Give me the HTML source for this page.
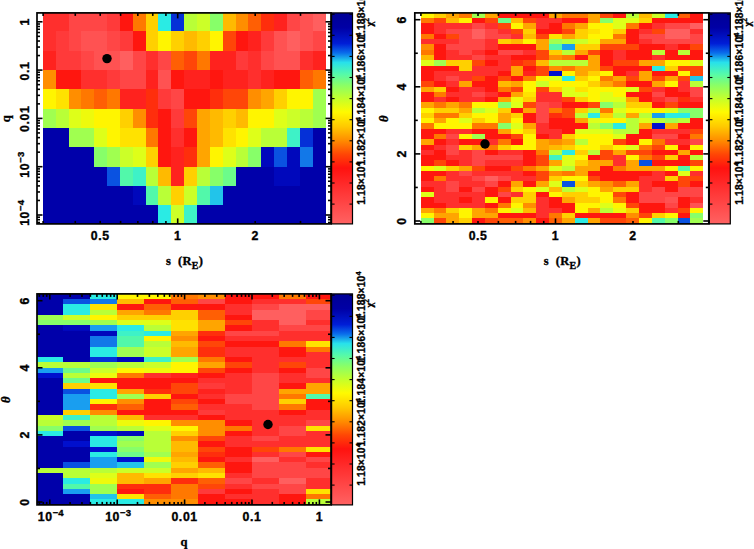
<!DOCTYPE html>
<html><head><meta charset="utf-8"><title>chi2 grid</title>
<style>html,body{margin:0;padding:0;background:#fff}svg{display:block}</style></head>
<body>
<svg width="754" height="549" viewBox="0 0 754 549">
<rect width="754" height="549" fill="#fff"/>
<defs><linearGradient id="cb" x1="0" y1="0" x2="0" y2="1">
<stop offset="0.000" stop-color="#000096"/>
<stop offset="0.070" stop-color="#0000a5"/>
<stop offset="0.145" stop-color="#001ed7"/>
<stop offset="0.190" stop-color="#0a6eeb"/>
<stop offset="0.235" stop-color="#28e1eb"/>
<stop offset="0.290" stop-color="#55faaa"/>
<stop offset="0.345" stop-color="#8cff64"/>
<stop offset="0.410" stop-color="#c8ff28"/>
<stop offset="0.470" stop-color="#fffa00"/>
<stop offset="0.540" stop-color="#ffc800"/>
<stop offset="0.605" stop-color="#ff8c00"/>
<stop offset="0.670" stop-color="#ff4605"/>
<stop offset="0.735" stop-color="#ff120f"/>
<stop offset="0.820" stop-color="#ff2d2d"/>
<stop offset="0.910" stop-color="#ff4848"/>
<stop offset="1.000" stop-color="#ff6262"/>
</linearGradient></defs>
<style>text{font-family:"Liberation Sans",sans-serif;fill:#000;stroke:#000;stroke-width:0.35px}.t{font-size:12.3px;font-weight:bold;letter-spacing:0.6px}.c{font-size:10.3px;font-weight:bold;letter-spacing:0.15px}.s{font-family:"Liberation Serif",serif;font-size:12.5px;font-weight:bold;letter-spacing:0.8px;word-spacing:1.5px}</style>
<g shape-rendering="crispEdges">
<rect x="42.90" y="12.90" width="25.98" height="18.86" fill="#ff2f2d"/>
<rect x="68.58" y="12.90" width="38.82" height="18.86" fill="#ff4646"/>
<rect x="107.10" y="12.90" width="13.14" height="18.86" fill="#ff3a3a"/>
<rect x="119.94" y="12.90" width="13.14" height="18.86" fill="#ff160f"/>
<rect x="132.78" y="12.90" width="13.14" height="18.86" fill="#ff7800"/>
<rect x="145.62" y="12.90" width="13.14" height="18.86" fill="#ffd000"/>
<rect x="158.46" y="12.90" width="13.14" height="18.86" fill="#2aebe4"/>
<rect x="171.30" y="12.90" width="13.14" height="18.86" fill="#0530d7"/>
<rect x="184.14" y="12.90" width="13.14" height="18.86" fill="#b9ff37"/>
<rect x="196.98" y="12.90" width="13.14" height="18.86" fill="#ccff28"/>
<rect x="209.82" y="12.90" width="13.14" height="18.86" fill="#87ff69"/>
<rect x="222.66" y="12.90" width="13.14" height="18.86" fill="#ffba00"/>
<rect x="235.50" y="12.90" width="13.14" height="18.86" fill="#ff8e00"/>
<rect x="248.34" y="12.90" width="13.14" height="18.86" fill="#ff5f04"/>
<rect x="261.18" y="12.90" width="13.14" height="18.86" fill="#ff2e0c"/>
<rect x="274.02" y="12.90" width="13.14" height="18.86" fill="#ff221e"/>
<rect x="286.86" y="12.90" width="13.14" height="18.86" fill="#ff4646"/>
<rect x="299.70" y="12.90" width="13.14" height="18.86" fill="#ff5252"/>
<rect x="312.54" y="12.90" width="13.14" height="18.86" fill="#ff5f5f"/>
<rect x="42.90" y="31.46" width="13.14" height="19.61" fill="#ff2f2d"/>
<rect x="55.74" y="31.46" width="13.14" height="19.61" fill="#ff3a3a"/>
<rect x="68.58" y="31.46" width="13.14" height="19.61" fill="#ff4646"/>
<rect x="81.42" y="31.46" width="25.98" height="19.61" fill="#ff5252"/>
<rect x="107.10" y="31.46" width="13.14" height="19.61" fill="#ff4646"/>
<rect x="119.94" y="31.46" width="13.14" height="19.61" fill="#ff3a3a"/>
<rect x="132.78" y="31.46" width="13.14" height="19.61" fill="#ff160f"/>
<rect x="145.62" y="31.46" width="13.14" height="19.61" fill="#ffd000"/>
<rect x="158.46" y="31.46" width="13.14" height="19.61" fill="#fff500"/>
<rect x="171.30" y="31.46" width="13.14" height="19.61" fill="#ffd000"/>
<rect x="184.14" y="31.46" width="13.14" height="19.61" fill="#ffba00"/>
<rect x="196.98" y="31.46" width="13.14" height="19.61" fill="#ffd000"/>
<rect x="209.82" y="31.46" width="13.14" height="19.61" fill="#fff500"/>
<rect x="222.66" y="31.46" width="13.14" height="19.61" fill="#ff4608"/>
<rect x="235.50" y="31.46" width="13.14" height="19.61" fill="#ff160f"/>
<rect x="248.34" y="31.46" width="13.14" height="19.61" fill="#ff221e"/>
<rect x="261.18" y="31.46" width="13.14" height="19.61" fill="#ff3a3a"/>
<rect x="274.02" y="31.46" width="13.14" height="19.61" fill="#ff5252"/>
<rect x="286.86" y="31.46" width="13.14" height="19.61" fill="#ff5f5f"/>
<rect x="299.70" y="31.46" width="13.14" height="19.61" fill="#ff5252"/>
<rect x="312.54" y="31.46" width="13.14" height="19.61" fill="#ff4646"/>
<rect x="42.90" y="50.77" width="13.14" height="19.61" fill="#ff221e"/>
<rect x="55.74" y="50.77" width="25.98" height="19.61" fill="#ff3a3a"/>
<rect x="81.42" y="50.77" width="13.14" height="19.61" fill="#ff4646"/>
<rect x="94.26" y="50.77" width="25.98" height="19.61" fill="#ff5252"/>
<rect x="119.94" y="50.77" width="13.14" height="19.61" fill="#ff5f5f"/>
<rect x="132.78" y="50.77" width="13.14" height="19.61" fill="#ff4646"/>
<rect x="145.62" y="50.77" width="13.14" height="19.61" fill="#ff2f2d"/>
<rect x="158.46" y="50.77" width="13.14" height="19.61" fill="#ff4646"/>
<rect x="171.30" y="50.77" width="13.14" height="19.61" fill="#ff5f04"/>
<rect x="184.14" y="50.77" width="13.14" height="19.61" fill="#ff4608"/>
<rect x="196.98" y="50.77" width="13.14" height="19.61" fill="#ff7800"/>
<rect x="209.82" y="50.77" width="25.98" height="19.61" fill="#ff221e"/>
<rect x="235.50" y="50.77" width="13.14" height="19.61" fill="#ff3a3a"/>
<rect x="248.34" y="50.77" width="13.14" height="19.61" fill="#ff2f2d"/>
<rect x="261.18" y="50.77" width="13.14" height="19.61" fill="#ff4646"/>
<rect x="274.02" y="50.77" width="25.98" height="19.61" fill="#ff5252"/>
<rect x="299.70" y="50.77" width="13.14" height="19.61" fill="#ff2f2d"/>
<rect x="312.54" y="50.77" width="13.14" height="19.61" fill="#ff221e"/>
<rect x="42.90" y="70.08" width="13.14" height="19.61" fill="#ff8e00"/>
<rect x="55.74" y="70.08" width="25.98" height="19.61" fill="#ff160f"/>
<rect x="81.42" y="70.08" width="25.98" height="19.61" fill="#ff2f2d"/>
<rect x="107.10" y="70.08" width="13.14" height="19.61" fill="#ff3a3a"/>
<rect x="119.94" y="70.08" width="25.98" height="19.61" fill="#ff4646"/>
<rect x="145.62" y="70.08" width="13.14" height="19.61" fill="#ff221e"/>
<rect x="158.46" y="70.08" width="13.14" height="19.61" fill="#ff5252"/>
<rect x="171.30" y="70.08" width="13.14" height="19.61" fill="#ff160f"/>
<rect x="184.14" y="70.08" width="25.98" height="19.61" fill="#ff221e"/>
<rect x="209.82" y="70.08" width="13.14" height="19.61" fill="#ff160f"/>
<rect x="222.66" y="70.08" width="25.98" height="19.61" fill="#ff221e"/>
<rect x="248.34" y="70.08" width="13.14" height="19.61" fill="#ff2f2d"/>
<rect x="261.18" y="70.08" width="13.14" height="19.61" fill="#ff221e"/>
<rect x="274.02" y="70.08" width="25.98" height="19.61" fill="#ff160f"/>
<rect x="299.70" y="70.08" width="13.14" height="19.61" fill="#ff5f04"/>
<rect x="312.54" y="70.08" width="13.14" height="19.61" fill="#ff7800"/>
<rect x="42.90" y="89.39" width="13.14" height="19.61" fill="#fff500"/>
<rect x="55.74" y="89.39" width="13.14" height="19.61" fill="#ffe200"/>
<rect x="68.58" y="89.39" width="13.14" height="19.61" fill="#ff8e00"/>
<rect x="81.42" y="89.39" width="13.14" height="19.61" fill="#ff7800"/>
<rect x="94.26" y="89.39" width="13.14" height="19.61" fill="#ff5f04"/>
<rect x="107.10" y="89.39" width="13.14" height="19.61" fill="#ff7800"/>
<rect x="119.94" y="89.39" width="25.98" height="19.61" fill="#ff221e"/>
<rect x="145.62" y="89.39" width="13.14" height="19.61" fill="#ff2e0c"/>
<rect x="158.46" y="89.39" width="13.14" height="19.61" fill="#ff3a3a"/>
<rect x="171.30" y="89.39" width="13.14" height="19.61" fill="#ff4646"/>
<rect x="184.14" y="89.39" width="25.98" height="19.61" fill="#ff160f"/>
<rect x="209.82" y="89.39" width="13.14" height="19.61" fill="#ff2e0c"/>
<rect x="222.66" y="89.39" width="25.98" height="19.61" fill="#ff4608"/>
<rect x="248.34" y="89.39" width="13.14" height="19.61" fill="#ff8e00"/>
<rect x="261.18" y="89.39" width="13.14" height="19.61" fill="#ffa500"/>
<rect x="274.02" y="89.39" width="13.14" height="19.61" fill="#ffd000"/>
<rect x="286.86" y="89.39" width="25.98" height="19.61" fill="#fff500"/>
<rect x="312.54" y="89.39" width="13.14" height="19.61" fill="#a0ff50"/>
<rect x="42.90" y="108.70" width="13.14" height="19.61" fill="#a0ff50"/>
<rect x="55.74" y="108.70" width="13.14" height="19.61" fill="#b9ff37"/>
<rect x="68.58" y="108.70" width="13.14" height="19.61" fill="#deff19"/>
<rect x="81.42" y="108.70" width="13.14" height="19.61" fill="#eefa0c"/>
<rect x="94.26" y="108.70" width="25.98" height="19.61" fill="#fff500"/>
<rect x="119.94" y="108.70" width="13.14" height="19.61" fill="#ffd000"/>
<rect x="132.78" y="108.70" width="13.14" height="19.61" fill="#ff8e00"/>
<rect x="145.62" y="108.70" width="13.14" height="19.61" fill="#ff2e0c"/>
<rect x="158.46" y="108.70" width="13.14" height="19.61" fill="#ff160f"/>
<rect x="171.30" y="108.70" width="13.14" height="19.61" fill="#ff3a3a"/>
<rect x="184.14" y="108.70" width="13.14" height="19.61" fill="#ff4608"/>
<rect x="196.98" y="108.70" width="13.14" height="19.61" fill="#ffa500"/>
<rect x="209.82" y="108.70" width="13.14" height="19.61" fill="#ffba00"/>
<rect x="222.66" y="108.70" width="13.14" height="19.61" fill="#ffd000"/>
<rect x="235.50" y="108.70" width="13.14" height="19.61" fill="#ffba00"/>
<rect x="248.34" y="108.70" width="25.98" height="19.61" fill="#fff500"/>
<rect x="274.02" y="108.70" width="13.14" height="19.61" fill="#deff19"/>
<rect x="286.86" y="108.70" width="13.14" height="19.61" fill="#ccff28"/>
<rect x="299.70" y="108.70" width="13.14" height="19.61" fill="#b9ff37"/>
<rect x="312.54" y="108.70" width="13.14" height="19.61" fill="#a0ff50"/>
<rect x="42.90" y="128.01" width="25.98" height="19.61" fill="#0000aa"/>
<rect x="68.58" y="128.01" width="25.98" height="19.61" fill="#a0ff50"/>
<rect x="94.26" y="128.01" width="13.14" height="19.61" fill="#deff19"/>
<rect x="107.10" y="128.01" width="13.14" height="19.61" fill="#fff500"/>
<rect x="119.94" y="128.01" width="25.98" height="19.61" fill="#ffe200"/>
<rect x="145.62" y="128.01" width="13.14" height="19.61" fill="#ff7800"/>
<rect x="158.46" y="128.01" width="13.14" height="19.61" fill="#ff160f"/>
<rect x="171.30" y="128.01" width="13.14" height="19.61" fill="#ff2f2d"/>
<rect x="184.14" y="128.01" width="13.14" height="19.61" fill="#ff160f"/>
<rect x="196.98" y="128.01" width="13.14" height="19.61" fill="#ffa500"/>
<rect x="209.82" y="128.01" width="13.14" height="19.61" fill="#ffba00"/>
<rect x="222.66" y="128.01" width="13.14" height="19.61" fill="#ffe200"/>
<rect x="235.50" y="128.01" width="13.14" height="19.61" fill="#fff500"/>
<rect x="248.34" y="128.01" width="13.14" height="19.61" fill="#deff19"/>
<rect x="261.18" y="128.01" width="25.98" height="19.61" fill="#b9ff37"/>
<rect x="286.86" y="128.01" width="13.14" height="19.61" fill="#3ef2c7"/>
<rect x="299.70" y="128.01" width="13.14" height="19.61" fill="#0530d7"/>
<rect x="312.54" y="128.01" width="13.14" height="19.61" fill="#0000aa"/>
<rect x="42.90" y="147.32" width="51.66" height="19.61" fill="#0000aa"/>
<rect x="94.26" y="147.32" width="13.14" height="19.61" fill="#87ff69"/>
<rect x="107.10" y="147.32" width="13.14" height="19.61" fill="#a0ff50"/>
<rect x="119.94" y="147.32" width="13.14" height="19.61" fill="#ccff28"/>
<rect x="132.78" y="147.32" width="13.14" height="19.61" fill="#deff19"/>
<rect x="145.62" y="147.32" width="13.14" height="19.61" fill="#ffd000"/>
<rect x="158.46" y="147.32" width="13.14" height="19.61" fill="#ff160f"/>
<rect x="171.30" y="147.32" width="13.14" height="19.61" fill="#ff221e"/>
<rect x="184.14" y="147.32" width="13.14" height="19.61" fill="#ff2e0c"/>
<rect x="196.98" y="147.32" width="13.14" height="19.61" fill="#ffa500"/>
<rect x="209.82" y="147.32" width="13.14" height="19.61" fill="#fff500"/>
<rect x="222.66" y="147.32" width="13.14" height="19.61" fill="#deff19"/>
<rect x="235.50" y="147.32" width="13.14" height="19.61" fill="#b9ff37"/>
<rect x="248.34" y="147.32" width="13.14" height="19.61" fill="#87ff69"/>
<rect x="261.18" y="147.32" width="13.14" height="19.61" fill="#0008bc"/>
<rect x="274.02" y="147.32" width="13.14" height="19.61" fill="#0a52e1"/>
<rect x="286.86" y="147.32" width="13.14" height="19.61" fill="#0008bc"/>
<rect x="299.70" y="147.32" width="13.14" height="19.61" fill="#1278e8"/>
<rect x="312.54" y="147.32" width="13.14" height="19.61" fill="#0000aa"/>
<rect x="42.90" y="166.63" width="64.50" height="19.61" fill="#0000aa"/>
<rect x="107.10" y="166.63" width="13.14" height="19.61" fill="#0a52e1"/>
<rect x="119.94" y="166.63" width="13.14" height="19.61" fill="#52f8aa"/>
<rect x="132.78" y="166.63" width="13.14" height="19.61" fill="#3ef2c7"/>
<rect x="145.62" y="166.63" width="13.14" height="19.61" fill="#b9ff37"/>
<rect x="158.46" y="166.63" width="13.14" height="19.61" fill="#ffba00"/>
<rect x="171.30" y="166.63" width="13.14" height="19.61" fill="#ff221e"/>
<rect x="184.14" y="166.63" width="13.14" height="19.61" fill="#ffd000"/>
<rect x="196.98" y="166.63" width="13.14" height="19.61" fill="#b9ff37"/>
<rect x="209.82" y="166.63" width="13.14" height="19.61" fill="#87ff69"/>
<rect x="222.66" y="166.63" width="13.14" height="19.61" fill="#6cfc8a"/>
<rect x="235.50" y="166.63" width="38.82" height="19.61" fill="#0000aa"/>
<rect x="274.02" y="166.63" width="25.98" height="19.61" fill="#0008bc"/>
<rect x="299.70" y="166.63" width="25.98" height="19.61" fill="#0000aa"/>
<rect x="42.90" y="185.94" width="90.18" height="19.61" fill="#0000aa"/>
<rect x="132.78" y="185.94" width="13.14" height="19.61" fill="#0008bc"/>
<rect x="145.62" y="185.94" width="13.14" height="19.61" fill="#52f8aa"/>
<rect x="158.46" y="185.94" width="13.14" height="19.61" fill="#b9ff37"/>
<rect x="171.30" y="185.94" width="13.14" height="19.61" fill="#ffd000"/>
<rect x="184.14" y="185.94" width="13.14" height="19.61" fill="#ccff28"/>
<rect x="196.98" y="185.94" width="13.14" height="19.61" fill="#52f8aa"/>
<rect x="209.82" y="185.94" width="13.14" height="19.61" fill="#22c4ea"/>
<rect x="222.66" y="185.94" width="103.02" height="19.61" fill="#0000aa"/>
<rect x="42.90" y="205.25" width="115.86" height="18.95" fill="#0000aa"/>
<rect x="158.46" y="205.25" width="13.14" height="18.95" fill="#2aebe4"/>
<rect x="171.30" y="205.25" width="13.14" height="18.95" fill="#ccff28"/>
<rect x="184.14" y="205.25" width="13.14" height="18.95" fill="#3ef2c7"/>
<rect x="196.98" y="205.25" width="128.70" height="18.95" fill="#0000aa"/>
</g>
<rect x="37" y="12.9" width="294" height="211.0" fill="none" stroke="#000" stroke-width="1.7"/>
<line x1="43.11" y1="223.90" x2="43.11" y2="220.90" stroke="#000" stroke-width="1.6"/>
<line x1="43.11" y1="12.90" x2="43.11" y2="15.90" stroke="#000" stroke-width="1.6"/>
<line x1="75.27" y1="223.90" x2="75.27" y2="220.90" stroke="#000" stroke-width="1.6"/>
<line x1="75.27" y1="12.90" x2="75.27" y2="15.90" stroke="#000" stroke-width="1.6"/>
<line x1="100.21" y1="223.90" x2="100.21" y2="220.90" stroke="#000" stroke-width="1.6"/>
<line x1="100.21" y1="12.90" x2="100.21" y2="15.90" stroke="#000" stroke-width="1.6"/>
<line x1="120.60" y1="223.90" x2="120.60" y2="220.90" stroke="#000" stroke-width="1.6"/>
<line x1="120.60" y1="12.90" x2="120.60" y2="15.90" stroke="#000" stroke-width="1.6"/>
<line x1="137.83" y1="223.90" x2="137.83" y2="220.90" stroke="#000" stroke-width="1.6"/>
<line x1="137.83" y1="12.90" x2="137.83" y2="15.90" stroke="#000" stroke-width="1.6"/>
<line x1="152.76" y1="223.90" x2="152.76" y2="220.90" stroke="#000" stroke-width="1.6"/>
<line x1="152.76" y1="12.90" x2="152.76" y2="15.90" stroke="#000" stroke-width="1.6"/>
<line x1="165.92" y1="223.90" x2="165.92" y2="220.90" stroke="#000" stroke-width="1.6"/>
<line x1="165.92" y1="12.90" x2="165.92" y2="15.90" stroke="#000" stroke-width="1.6"/>
<line x1="177.70" y1="223.90" x2="177.70" y2="218.40" stroke="#000" stroke-width="1.6"/>
<line x1="177.70" y1="12.90" x2="177.70" y2="18.40" stroke="#000" stroke-width="1.6"/>
<line x1="255.19" y1="223.90" x2="255.19" y2="220.90" stroke="#000" stroke-width="1.6"/>
<line x1="255.19" y1="12.90" x2="255.19" y2="15.90" stroke="#000" stroke-width="1.6"/>
<line x1="300.51" y1="223.90" x2="300.51" y2="220.90" stroke="#000" stroke-width="1.6"/>
<line x1="300.51" y1="12.90" x2="300.51" y2="15.90" stroke="#000" stroke-width="1.6"/>
<line x1="37.00" y1="222.48" x2="40.00" y2="222.48" stroke="#000" stroke-width="1.6"/>
<line x1="331.00" y1="222.48" x2="328.00" y2="222.48" stroke="#000" stroke-width="1.6"/>
<line x1="37.00" y1="219.68" x2="40.00" y2="219.68" stroke="#000" stroke-width="1.6"/>
<line x1="331.00" y1="219.68" x2="328.00" y2="219.68" stroke="#000" stroke-width="1.6"/>
<line x1="37.00" y1="217.21" x2="40.00" y2="217.21" stroke="#000" stroke-width="1.6"/>
<line x1="331.00" y1="217.21" x2="328.00" y2="217.21" stroke="#000" stroke-width="1.6"/>
<line x1="37.00" y1="215.00" x2="42.50" y2="215.00" stroke="#000" stroke-width="1.6"/>
<line x1="331.00" y1="215.00" x2="325.50" y2="215.00" stroke="#000" stroke-width="1.6"/>
<line x1="37.00" y1="200.46" x2="40.00" y2="200.46" stroke="#000" stroke-width="1.6"/>
<line x1="331.00" y1="200.46" x2="328.00" y2="200.46" stroke="#000" stroke-width="1.6"/>
<line x1="37.00" y1="191.96" x2="40.00" y2="191.96" stroke="#000" stroke-width="1.6"/>
<line x1="331.00" y1="191.96" x2="328.00" y2="191.96" stroke="#000" stroke-width="1.6"/>
<line x1="37.00" y1="185.92" x2="40.00" y2="185.92" stroke="#000" stroke-width="1.6"/>
<line x1="331.00" y1="185.92" x2="328.00" y2="185.92" stroke="#000" stroke-width="1.6"/>
<line x1="37.00" y1="181.24" x2="40.00" y2="181.24" stroke="#000" stroke-width="1.6"/>
<line x1="331.00" y1="181.24" x2="328.00" y2="181.24" stroke="#000" stroke-width="1.6"/>
<line x1="37.00" y1="177.42" x2="40.00" y2="177.42" stroke="#000" stroke-width="1.6"/>
<line x1="331.00" y1="177.42" x2="328.00" y2="177.42" stroke="#000" stroke-width="1.6"/>
<line x1="37.00" y1="174.18" x2="40.00" y2="174.18" stroke="#000" stroke-width="1.6"/>
<line x1="331.00" y1="174.18" x2="328.00" y2="174.18" stroke="#000" stroke-width="1.6"/>
<line x1="37.00" y1="171.38" x2="40.00" y2="171.38" stroke="#000" stroke-width="1.6"/>
<line x1="331.00" y1="171.38" x2="328.00" y2="171.38" stroke="#000" stroke-width="1.6"/>
<line x1="37.00" y1="168.91" x2="40.00" y2="168.91" stroke="#000" stroke-width="1.6"/>
<line x1="331.00" y1="168.91" x2="328.00" y2="168.91" stroke="#000" stroke-width="1.6"/>
<line x1="37.00" y1="166.70" x2="42.50" y2="166.70" stroke="#000" stroke-width="1.6"/>
<line x1="331.00" y1="166.70" x2="325.50" y2="166.70" stroke="#000" stroke-width="1.6"/>
<line x1="37.00" y1="152.16" x2="40.00" y2="152.16" stroke="#000" stroke-width="1.6"/>
<line x1="331.00" y1="152.16" x2="328.00" y2="152.16" stroke="#000" stroke-width="1.6"/>
<line x1="37.00" y1="143.66" x2="40.00" y2="143.66" stroke="#000" stroke-width="1.6"/>
<line x1="331.00" y1="143.66" x2="328.00" y2="143.66" stroke="#000" stroke-width="1.6"/>
<line x1="37.00" y1="137.62" x2="40.00" y2="137.62" stroke="#000" stroke-width="1.6"/>
<line x1="331.00" y1="137.62" x2="328.00" y2="137.62" stroke="#000" stroke-width="1.6"/>
<line x1="37.00" y1="132.94" x2="40.00" y2="132.94" stroke="#000" stroke-width="1.6"/>
<line x1="331.00" y1="132.94" x2="328.00" y2="132.94" stroke="#000" stroke-width="1.6"/>
<line x1="37.00" y1="129.12" x2="40.00" y2="129.12" stroke="#000" stroke-width="1.6"/>
<line x1="331.00" y1="129.12" x2="328.00" y2="129.12" stroke="#000" stroke-width="1.6"/>
<line x1="37.00" y1="125.88" x2="40.00" y2="125.88" stroke="#000" stroke-width="1.6"/>
<line x1="331.00" y1="125.88" x2="328.00" y2="125.88" stroke="#000" stroke-width="1.6"/>
<line x1="37.00" y1="123.08" x2="40.00" y2="123.08" stroke="#000" stroke-width="1.6"/>
<line x1="331.00" y1="123.08" x2="328.00" y2="123.08" stroke="#000" stroke-width="1.6"/>
<line x1="37.00" y1="120.61" x2="40.00" y2="120.61" stroke="#000" stroke-width="1.6"/>
<line x1="331.00" y1="120.61" x2="328.00" y2="120.61" stroke="#000" stroke-width="1.6"/>
<line x1="37.00" y1="118.40" x2="42.50" y2="118.40" stroke="#000" stroke-width="1.6"/>
<line x1="331.00" y1="118.40" x2="325.50" y2="118.40" stroke="#000" stroke-width="1.6"/>
<line x1="37.00" y1="103.86" x2="40.00" y2="103.86" stroke="#000" stroke-width="1.6"/>
<line x1="331.00" y1="103.86" x2="328.00" y2="103.86" stroke="#000" stroke-width="1.6"/>
<line x1="37.00" y1="95.36" x2="40.00" y2="95.36" stroke="#000" stroke-width="1.6"/>
<line x1="331.00" y1="95.36" x2="328.00" y2="95.36" stroke="#000" stroke-width="1.6"/>
<line x1="37.00" y1="89.32" x2="40.00" y2="89.32" stroke="#000" stroke-width="1.6"/>
<line x1="331.00" y1="89.32" x2="328.00" y2="89.32" stroke="#000" stroke-width="1.6"/>
<line x1="37.00" y1="84.64" x2="40.00" y2="84.64" stroke="#000" stroke-width="1.6"/>
<line x1="331.00" y1="84.64" x2="328.00" y2="84.64" stroke="#000" stroke-width="1.6"/>
<line x1="37.00" y1="80.82" x2="40.00" y2="80.82" stroke="#000" stroke-width="1.6"/>
<line x1="331.00" y1="80.82" x2="328.00" y2="80.82" stroke="#000" stroke-width="1.6"/>
<line x1="37.00" y1="77.58" x2="40.00" y2="77.58" stroke="#000" stroke-width="1.6"/>
<line x1="331.00" y1="77.58" x2="328.00" y2="77.58" stroke="#000" stroke-width="1.6"/>
<line x1="37.00" y1="74.78" x2="40.00" y2="74.78" stroke="#000" stroke-width="1.6"/>
<line x1="331.00" y1="74.78" x2="328.00" y2="74.78" stroke="#000" stroke-width="1.6"/>
<line x1="37.00" y1="72.31" x2="40.00" y2="72.31" stroke="#000" stroke-width="1.6"/>
<line x1="331.00" y1="72.31" x2="328.00" y2="72.31" stroke="#000" stroke-width="1.6"/>
<line x1="37.00" y1="70.10" x2="42.50" y2="70.10" stroke="#000" stroke-width="1.6"/>
<line x1="331.00" y1="70.10" x2="325.50" y2="70.10" stroke="#000" stroke-width="1.6"/>
<line x1="37.00" y1="55.56" x2="40.00" y2="55.56" stroke="#000" stroke-width="1.6"/>
<line x1="331.00" y1="55.56" x2="328.00" y2="55.56" stroke="#000" stroke-width="1.6"/>
<line x1="37.00" y1="47.06" x2="40.00" y2="47.06" stroke="#000" stroke-width="1.6"/>
<line x1="331.00" y1="47.06" x2="328.00" y2="47.06" stroke="#000" stroke-width="1.6"/>
<line x1="37.00" y1="41.02" x2="40.00" y2="41.02" stroke="#000" stroke-width="1.6"/>
<line x1="331.00" y1="41.02" x2="328.00" y2="41.02" stroke="#000" stroke-width="1.6"/>
<line x1="37.00" y1="36.34" x2="40.00" y2="36.34" stroke="#000" stroke-width="1.6"/>
<line x1="331.00" y1="36.34" x2="328.00" y2="36.34" stroke="#000" stroke-width="1.6"/>
<line x1="37.00" y1="32.52" x2="40.00" y2="32.52" stroke="#000" stroke-width="1.6"/>
<line x1="331.00" y1="32.52" x2="328.00" y2="32.52" stroke="#000" stroke-width="1.6"/>
<line x1="37.00" y1="29.28" x2="40.00" y2="29.28" stroke="#000" stroke-width="1.6"/>
<line x1="331.00" y1="29.28" x2="328.00" y2="29.28" stroke="#000" stroke-width="1.6"/>
<line x1="37.00" y1="26.48" x2="40.00" y2="26.48" stroke="#000" stroke-width="1.6"/>
<line x1="331.00" y1="26.48" x2="328.00" y2="26.48" stroke="#000" stroke-width="1.6"/>
<line x1="37.00" y1="24.01" x2="40.00" y2="24.01" stroke="#000" stroke-width="1.6"/>
<line x1="331.00" y1="24.01" x2="328.00" y2="24.01" stroke="#000" stroke-width="1.6"/>
<line x1="37.00" y1="21.80" x2="42.50" y2="21.80" stroke="#000" stroke-width="1.6"/>
<line x1="331.00" y1="21.80" x2="325.50" y2="21.80" stroke="#000" stroke-width="1.6"/>
<circle cx="107" cy="58.6" r="4.7"/>
<rect x="331.60" y="12.90" width="20.90" height="211.00" fill="url(#cb)"/>
<rect x="331.60" y="12.90" width="20.90" height="211.00" fill="none" stroke="#000" stroke-width="1.2"/>
<line x1="331.60" y1="204.10" x2="334.60" y2="204.10" stroke="#000" stroke-width="1.1"/>
<line x1="352.50" y1="204.10" x2="349.50" y2="204.10" stroke="#000" stroke-width="1.1"/>
<line x1="331.60" y1="183.00" x2="334.60" y2="183.00" stroke="#000" stroke-width="1.1"/>
<line x1="352.50" y1="183.00" x2="349.50" y2="183.00" stroke="#000" stroke-width="1.1"/>
<line x1="331.60" y1="161.90" x2="334.60" y2="161.90" stroke="#000" stroke-width="1.1"/>
<line x1="352.50" y1="161.90" x2="349.50" y2="161.90" stroke="#000" stroke-width="1.1"/>
<line x1="331.60" y1="140.80" x2="334.60" y2="140.80" stroke="#000" stroke-width="1.1"/>
<line x1="352.50" y1="140.80" x2="349.50" y2="140.80" stroke="#000" stroke-width="1.1"/>
<line x1="331.60" y1="119.70" x2="334.60" y2="119.70" stroke="#000" stroke-width="1.1"/>
<line x1="352.50" y1="119.70" x2="349.50" y2="119.70" stroke="#000" stroke-width="1.1"/>
<line x1="331.60" y1="98.60" x2="334.60" y2="98.60" stroke="#000" stroke-width="1.1"/>
<line x1="352.50" y1="98.60" x2="349.50" y2="98.60" stroke="#000" stroke-width="1.1"/>
<line x1="331.60" y1="77.50" x2="334.60" y2="77.50" stroke="#000" stroke-width="1.1"/>
<line x1="352.50" y1="77.50" x2="349.50" y2="77.50" stroke="#000" stroke-width="1.1"/>
<line x1="331.60" y1="56.40" x2="334.60" y2="56.40" stroke="#000" stroke-width="1.1"/>
<line x1="352.50" y1="56.40" x2="349.50" y2="56.40" stroke="#000" stroke-width="1.1"/>
<line x1="331.60" y1="35.30" x2="334.60" y2="35.30" stroke="#000" stroke-width="1.1"/>
<line x1="352.50" y1="35.30" x2="349.50" y2="35.30" stroke="#000" stroke-width="1.1"/>
<line x1="331.60" y1="14.20" x2="334.60" y2="14.20" stroke="#000" stroke-width="1.1"/>
<line x1="352.50" y1="14.20" x2="349.50" y2="14.20" stroke="#000" stroke-width="1.1"/>
<text transform="translate(364.80 183.40) rotate(-90)" text-anchor="middle" class="c">1.18×10<tspan dy="-3.5" font-size="7.5">4</tspan></text>
<text transform="translate(364.80 141.20) rotate(-90)" text-anchor="middle" class="c">1.182×10<tspan dy="-3.5" font-size="7.5">4</tspan></text>
<text transform="translate(364.80 99.00) rotate(-90)" text-anchor="middle" class="c">1.184×10<tspan dy="-3.5" font-size="7.5">4</tspan></text>
<text transform="translate(364.80 56.80) rotate(-90)" text-anchor="middle" class="c">1.186×10<tspan dy="-3.5" font-size="7.5">4</tspan></text>
<text transform="translate(364.80 14.60) rotate(-90)" text-anchor="middle" class="c">1.188×10<tspan dy="-3.5" font-size="7.5">4</tspan></text>
<text transform="translate(373.20 22.30) rotate(-90)" text-anchor="middle" class="s" style="font-size:10.5px;letter-spacing:0">χ<tspan dy="-4" font-size="7.5">2</tspan></text>
<text x="100.30" y="239.60" text-anchor="middle" class="t">0.5</text>
<text x="177.70" y="239.60" text-anchor="middle" class="t">1</text>
<text x="255.20" y="239.60" text-anchor="middle" class="t">2</text>
<text transform="translate(28.50 21.80) rotate(-90)" text-anchor="middle" class="t">1</text>
<text transform="translate(28.50 71.00) rotate(-90)" text-anchor="middle" class="t">0.1</text>
<text transform="translate(28.50 118.80) rotate(-90)" text-anchor="middle" class="t">0.01</text>
<text transform="translate(28.50 164.60) rotate(-90)" text-anchor="middle" class="t">10<tspan dy="-4.5" font-size="9.5" letter-spacing="0.2">−3</tspan></text>
<text transform="translate(28.50 212.80) rotate(-90)" text-anchor="middle" class="t">10<tspan dy="-4.5" font-size="9.5" letter-spacing="0.2">−4</tspan></text>
<text transform="translate(9.5 118.4) rotate(-90)" text-anchor="middle" class="s">q</text>
<text x="184.6" y="264.8" text-anchor="middle" class="s" style="word-spacing:3.5px;letter-spacing:0.3px">s (R<tspan dy="4" font-size="10">E</tspan><tspan dy="-4">)</tspan></text>
<g shape-rendering="crispEdges">
<rect x="420.70" y="12.90" width="13.14" height="5.47" fill="#fff500"/>
<rect x="433.54" y="12.90" width="13.14" height="5.47" fill="#ffd000"/>
<rect x="446.38" y="12.90" width="13.14" height="5.47" fill="#ffa500"/>
<rect x="459.22" y="12.90" width="13.14" height="5.47" fill="#ff7800"/>
<rect x="472.06" y="12.90" width="13.14" height="5.47" fill="#a0ff50"/>
<rect x="484.90" y="12.90" width="13.14" height="5.47" fill="#ffa500"/>
<rect x="497.74" y="12.90" width="51.66" height="5.47" fill="#ff160f"/>
<rect x="549.10" y="12.90" width="13.14" height="5.47" fill="#ffa500"/>
<rect x="561.94" y="12.90" width="25.98" height="5.47" fill="#ff7800"/>
<rect x="587.62" y="12.90" width="13.14" height="5.47" fill="#ffa500"/>
<rect x="600.46" y="12.90" width="13.14" height="5.47" fill="#ff4608"/>
<rect x="613.30" y="12.90" width="13.14" height="5.47" fill="#ff160f"/>
<rect x="626.14" y="12.90" width="13.14" height="5.47" fill="#b9ff37"/>
<rect x="638.98" y="12.90" width="13.14" height="5.47" fill="#ffba00"/>
<rect x="651.82" y="12.90" width="13.14" height="5.47" fill="#ccff28"/>
<rect x="664.66" y="12.90" width="13.14" height="5.47" fill="#2aebe4"/>
<rect x="677.50" y="12.90" width="13.14" height="5.47" fill="#ff5f04"/>
<rect x="690.34" y="12.90" width="13.14" height="5.47" fill="#ff160f"/>
<rect x="420.70" y="18.07" width="13.14" height="5.57" fill="#ff7800"/>
<rect x="433.54" y="18.07" width="13.14" height="5.57" fill="#ff4608"/>
<rect x="446.38" y="18.07" width="13.14" height="5.57" fill="#ffba00"/>
<rect x="459.22" y="18.07" width="13.14" height="5.57" fill="#fff500"/>
<rect x="472.06" y="18.07" width="13.14" height="5.57" fill="#ff160f"/>
<rect x="484.90" y="18.07" width="13.14" height="5.57" fill="#ff4608"/>
<rect x="497.74" y="18.07" width="13.14" height="5.57" fill="#6cfc8a"/>
<rect x="510.58" y="18.07" width="13.14" height="5.57" fill="#ffba00"/>
<rect x="523.42" y="18.07" width="13.14" height="5.57" fill="#ff4608"/>
<rect x="536.26" y="18.07" width="25.98" height="5.57" fill="#ff2f2d"/>
<rect x="561.94" y="18.07" width="25.98" height="5.57" fill="#ff160f"/>
<rect x="587.62" y="18.07" width="13.14" height="5.57" fill="#ffa500"/>
<rect x="600.46" y="18.07" width="13.14" height="5.57" fill="#87ff69"/>
<rect x="613.30" y="18.07" width="25.98" height="5.57" fill="#deff19"/>
<rect x="638.98" y="18.07" width="13.14" height="5.57" fill="#ffd000"/>
<rect x="651.82" y="18.07" width="51.66" height="5.57" fill="#ff160f"/>
<rect x="420.70" y="23.34" width="13.14" height="5.57" fill="#ff160f"/>
<rect x="433.54" y="23.34" width="38.82" height="5.57" fill="#ff2f2d"/>
<rect x="472.06" y="23.34" width="13.14" height="5.57" fill="#ff4646"/>
<rect x="484.90" y="23.34" width="13.14" height="5.57" fill="#ff2f2d"/>
<rect x="497.74" y="23.34" width="13.14" height="5.57" fill="#ff4608"/>
<rect x="510.58" y="23.34" width="13.14" height="5.57" fill="#fff500"/>
<rect x="523.42" y="23.34" width="13.14" height="5.57" fill="#ffa500"/>
<rect x="536.26" y="23.34" width="13.14" height="5.57" fill="#ff2f2d"/>
<rect x="549.10" y="23.34" width="13.14" height="5.57" fill="#ff160f"/>
<rect x="561.94" y="23.34" width="13.14" height="5.57" fill="#ff7800"/>
<rect x="574.78" y="23.34" width="13.14" height="5.57" fill="#ffa500"/>
<rect x="587.62" y="23.34" width="25.98" height="5.57" fill="#fff500"/>
<rect x="613.30" y="23.34" width="13.14" height="5.57" fill="#deff19"/>
<rect x="626.14" y="23.34" width="13.14" height="5.57" fill="#ff7800"/>
<rect x="638.98" y="23.34" width="13.14" height="5.57" fill="#ff160f"/>
<rect x="651.82" y="23.34" width="13.14" height="5.57" fill="#ff2f2d"/>
<rect x="664.66" y="23.34" width="25.98" height="5.57" fill="#ff4646"/>
<rect x="690.34" y="23.34" width="13.14" height="5.57" fill="#ff5f5f"/>
<rect x="420.70" y="28.61" width="13.14" height="5.57" fill="#ff160f"/>
<rect x="433.54" y="28.61" width="13.14" height="5.57" fill="#ff2f2d"/>
<rect x="446.38" y="28.61" width="25.98" height="5.57" fill="#ff4646"/>
<rect x="472.06" y="28.61" width="13.14" height="5.57" fill="#ff5f5f"/>
<rect x="484.90" y="28.61" width="13.14" height="5.57" fill="#ff4646"/>
<rect x="497.74" y="28.61" width="13.14" height="5.57" fill="#ff2f2d"/>
<rect x="510.58" y="28.61" width="13.14" height="5.57" fill="#ff4608"/>
<rect x="523.42" y="28.61" width="13.14" height="5.57" fill="#ffd000"/>
<rect x="536.26" y="28.61" width="25.98" height="5.57" fill="#ff160f"/>
<rect x="561.94" y="28.61" width="13.14" height="5.57" fill="#ff4608"/>
<rect x="574.78" y="28.61" width="13.14" height="5.57" fill="#ffd000"/>
<rect x="587.62" y="28.61" width="13.14" height="5.57" fill="#ffe200"/>
<rect x="600.46" y="28.61" width="13.14" height="5.57" fill="#fff500"/>
<rect x="613.30" y="28.61" width="13.14" height="5.57" fill="#ffd000"/>
<rect x="626.14" y="28.61" width="13.14" height="5.57" fill="#ff160f"/>
<rect x="638.98" y="28.61" width="13.14" height="5.57" fill="#ff2f2d"/>
<rect x="651.82" y="28.61" width="13.14" height="5.57" fill="#ff4608"/>
<rect x="664.66" y="28.61" width="25.98" height="5.57" fill="#ff5f5f"/>
<rect x="690.34" y="28.61" width="13.14" height="5.57" fill="#ff2f2d"/>
<rect x="420.70" y="33.88" width="13.14" height="5.57" fill="#ff7800"/>
<rect x="433.54" y="33.88" width="13.14" height="5.57" fill="#ff160f"/>
<rect x="446.38" y="33.88" width="13.14" height="5.57" fill="#ff4608"/>
<rect x="459.22" y="33.88" width="13.14" height="5.57" fill="#ff4646"/>
<rect x="472.06" y="33.88" width="13.14" height="5.57" fill="#ff5f5f"/>
<rect x="484.90" y="33.88" width="25.98" height="5.57" fill="#ff4646"/>
<rect x="510.58" y="33.88" width="13.14" height="5.57" fill="#ff2f2d"/>
<rect x="523.42" y="33.88" width="13.14" height="5.57" fill="#ffba00"/>
<rect x="536.26" y="33.88" width="13.14" height="5.57" fill="#ff4608"/>
<rect x="549.10" y="33.88" width="13.14" height="5.57" fill="#ffe200"/>
<rect x="561.94" y="33.88" width="13.14" height="5.57" fill="#ffa500"/>
<rect x="574.78" y="33.88" width="13.14" height="5.57" fill="#ffd000"/>
<rect x="587.62" y="33.88" width="25.98" height="5.57" fill="#fff500"/>
<rect x="613.30" y="33.88" width="13.14" height="5.57" fill="#ff7800"/>
<rect x="626.14" y="33.88" width="13.14" height="5.57" fill="#ff160f"/>
<rect x="638.98" y="33.88" width="25.98" height="5.57" fill="#ff4646"/>
<rect x="664.66" y="33.88" width="25.98" height="5.57" fill="#ff5f5f"/>
<rect x="690.34" y="33.88" width="13.14" height="5.57" fill="#ff4646"/>
<rect x="420.70" y="39.15" width="38.82" height="5.57" fill="#ff2f2d"/>
<rect x="459.22" y="39.15" width="25.98" height="5.57" fill="#ff4646"/>
<rect x="484.90" y="39.15" width="13.14" height="5.57" fill="#ff2f2d"/>
<rect x="497.74" y="39.15" width="13.14" height="5.57" fill="#ffd000"/>
<rect x="510.58" y="39.15" width="13.14" height="5.57" fill="#ffba00"/>
<rect x="523.42" y="39.15" width="13.14" height="5.57" fill="#fff500"/>
<rect x="536.26" y="39.15" width="13.14" height="5.57" fill="#ffa500"/>
<rect x="549.10" y="39.15" width="13.14" height="5.57" fill="#a0ff50"/>
<rect x="561.94" y="39.15" width="13.14" height="5.57" fill="#b9ff37"/>
<rect x="574.78" y="39.15" width="13.14" height="5.57" fill="#ccff28"/>
<rect x="587.62" y="39.15" width="13.14" height="5.57" fill="#eefa0c"/>
<rect x="600.46" y="39.15" width="25.98" height="5.57" fill="#ffa500"/>
<rect x="626.14" y="39.15" width="13.14" height="5.57" fill="#ff160f"/>
<rect x="638.98" y="39.15" width="13.14" height="5.57" fill="#ff2f2d"/>
<rect x="651.82" y="39.15" width="51.66" height="5.57" fill="#ff4646"/>
<rect x="420.70" y="44.42" width="13.14" height="5.57" fill="#ff8e00"/>
<rect x="433.54" y="44.42" width="13.14" height="5.57" fill="#ff160f"/>
<rect x="446.38" y="44.42" width="38.82" height="5.57" fill="#ff4646"/>
<rect x="484.90" y="44.42" width="13.14" height="5.57" fill="#ff2f2d"/>
<rect x="497.74" y="44.42" width="38.82" height="5.57" fill="#ff160f"/>
<rect x="536.26" y="44.42" width="13.14" height="5.57" fill="#ffa500"/>
<rect x="549.10" y="44.42" width="13.14" height="5.57" fill="#52f8aa"/>
<rect x="561.94" y="44.42" width="13.14" height="5.57" fill="#199ef0"/>
<rect x="574.78" y="44.42" width="25.98" height="5.57" fill="#ffd000"/>
<rect x="600.46" y="44.42" width="38.82" height="5.57" fill="#ff4608"/>
<rect x="638.98" y="44.42" width="25.98" height="5.57" fill="#ff160f"/>
<rect x="664.66" y="44.42" width="13.14" height="5.57" fill="#ff2f2d"/>
<rect x="677.50" y="44.42" width="13.14" height="5.57" fill="#ff160f"/>
<rect x="690.34" y="44.42" width="13.14" height="5.57" fill="#ff4608"/>
<rect x="420.70" y="49.69" width="13.14" height="5.57" fill="#ff7800"/>
<rect x="433.54" y="49.69" width="13.14" height="5.57" fill="#ff160f"/>
<rect x="446.38" y="49.69" width="13.14" height="5.57" fill="#ff2f2d"/>
<rect x="459.22" y="49.69" width="13.14" height="5.57" fill="#ff4646"/>
<rect x="472.06" y="49.69" width="13.14" height="5.57" fill="#ff2f2d"/>
<rect x="484.90" y="49.69" width="13.14" height="5.57" fill="#ff160f"/>
<rect x="497.74" y="49.69" width="25.98" height="5.57" fill="#ff4646"/>
<rect x="523.42" y="49.69" width="13.14" height="5.57" fill="#ff2f2d"/>
<rect x="536.26" y="49.69" width="13.14" height="5.57" fill="#ff4608"/>
<rect x="549.10" y="49.69" width="13.14" height="5.57" fill="#ffd000"/>
<rect x="561.94" y="49.69" width="13.14" height="5.57" fill="#b9ff37"/>
<rect x="574.78" y="49.69" width="13.14" height="5.57" fill="#ffa500"/>
<rect x="587.62" y="49.69" width="13.14" height="5.57" fill="#ff4608"/>
<rect x="600.46" y="49.69" width="13.14" height="5.57" fill="#ff160f"/>
<rect x="613.30" y="49.69" width="13.14" height="5.57" fill="#ff2f2d"/>
<rect x="626.14" y="49.69" width="25.98" height="5.57" fill="#ff160f"/>
<rect x="651.82" y="49.69" width="13.14" height="5.57" fill="#b9ff37"/>
<rect x="664.66" y="49.69" width="13.14" height="5.57" fill="#ff160f"/>
<rect x="677.50" y="49.69" width="13.14" height="5.57" fill="#b9ff37"/>
<rect x="690.34" y="49.69" width="13.14" height="5.57" fill="#ff160f"/>
<rect x="420.70" y="54.96" width="13.14" height="5.57" fill="#ffba00"/>
<rect x="433.54" y="54.96" width="13.14" height="5.57" fill="#ff160f"/>
<rect x="446.38" y="54.96" width="25.98" height="5.57" fill="#ff2f2d"/>
<rect x="472.06" y="54.96" width="13.14" height="5.57" fill="#ff4646"/>
<rect x="484.90" y="54.96" width="25.98" height="5.57" fill="#ff2f2d"/>
<rect x="510.58" y="54.96" width="25.98" height="5.57" fill="#ff160f"/>
<rect x="536.26" y="54.96" width="13.14" height="5.57" fill="#ff4608"/>
<rect x="549.10" y="54.96" width="13.14" height="5.57" fill="#ff8e00"/>
<rect x="561.94" y="54.96" width="13.14" height="5.57" fill="#ff7800"/>
<rect x="574.78" y="54.96" width="13.14" height="5.57" fill="#ff160f"/>
<rect x="587.62" y="54.96" width="13.14" height="5.57" fill="#ffa500"/>
<rect x="600.46" y="54.96" width="13.14" height="5.57" fill="#ff160f"/>
<rect x="613.30" y="54.96" width="13.14" height="5.57" fill="#ff2f2d"/>
<rect x="626.14" y="54.96" width="25.98" height="5.57" fill="#ff160f"/>
<rect x="651.82" y="54.96" width="13.14" height="5.57" fill="#ff2f2d"/>
<rect x="664.66" y="54.96" width="38.82" height="5.57" fill="#ff160f"/>
<rect x="420.70" y="60.23" width="13.14" height="5.57" fill="#deff19"/>
<rect x="433.54" y="60.23" width="13.14" height="5.57" fill="#a0ff50"/>
<rect x="446.38" y="60.23" width="25.98" height="5.57" fill="#ffd000"/>
<rect x="472.06" y="60.23" width="13.14" height="5.57" fill="#ff4608"/>
<rect x="484.90" y="60.23" width="13.14" height="5.57" fill="#ff160f"/>
<rect x="497.74" y="60.23" width="13.14" height="5.57" fill="#ff2f2d"/>
<rect x="510.58" y="60.23" width="13.14" height="5.57" fill="#ff2e0c"/>
<rect x="523.42" y="60.23" width="13.14" height="5.57" fill="#ff4608"/>
<rect x="536.26" y="60.23" width="13.14" height="5.57" fill="#ffba00"/>
<rect x="549.10" y="60.23" width="38.82" height="5.57" fill="#b9ff37"/>
<rect x="587.62" y="60.23" width="13.14" height="5.57" fill="#ffa500"/>
<rect x="600.46" y="60.23" width="13.14" height="5.57" fill="#ff160f"/>
<rect x="613.30" y="60.23" width="25.98" height="5.57" fill="#ff4608"/>
<rect x="638.98" y="60.23" width="25.98" height="5.57" fill="#ffa500"/>
<rect x="664.66" y="60.23" width="25.98" height="5.57" fill="#fff500"/>
<rect x="690.34" y="60.23" width="13.14" height="5.57" fill="#deff19"/>
<rect x="420.70" y="65.50" width="38.82" height="5.57" fill="#ff160f"/>
<rect x="459.22" y="65.50" width="13.14" height="5.57" fill="#ffd000"/>
<rect x="472.06" y="65.50" width="38.82" height="5.57" fill="#ff2f2d"/>
<rect x="510.58" y="65.50" width="13.14" height="5.57" fill="#ffa500"/>
<rect x="523.42" y="65.50" width="13.14" height="5.57" fill="#ff160f"/>
<rect x="536.26" y="65.50" width="13.14" height="5.57" fill="#ff4608"/>
<rect x="549.10" y="65.50" width="13.14" height="5.57" fill="#ff8e00"/>
<rect x="561.94" y="65.50" width="13.14" height="5.57" fill="#ff7800"/>
<rect x="574.78" y="65.50" width="25.98" height="5.57" fill="#ffa500"/>
<rect x="600.46" y="65.50" width="13.14" height="5.57" fill="#ff4608"/>
<rect x="613.30" y="65.50" width="38.82" height="5.57" fill="#ff160f"/>
<rect x="651.82" y="65.50" width="13.14" height="5.57" fill="#2aebe4"/>
<rect x="664.66" y="65.50" width="13.14" height="5.57" fill="#ffd000"/>
<rect x="677.50" y="65.50" width="25.98" height="5.57" fill="#ff4608"/>
<rect x="420.70" y="70.77" width="13.14" height="5.57" fill="#ff160f"/>
<rect x="433.54" y="70.77" width="64.50" height="5.57" fill="#ff2f2d"/>
<rect x="497.74" y="70.77" width="13.14" height="5.57" fill="#ff160f"/>
<rect x="510.58" y="70.77" width="13.14" height="5.57" fill="#ffa500"/>
<rect x="523.42" y="70.77" width="13.14" height="5.57" fill="#ff221e"/>
<rect x="536.26" y="70.77" width="13.14" height="5.57" fill="#ff4608"/>
<rect x="549.10" y="70.77" width="13.14" height="5.57" fill="#000fcd"/>
<rect x="561.94" y="70.77" width="13.14" height="5.57" fill="#fff500"/>
<rect x="574.78" y="70.77" width="13.14" height="5.57" fill="#ffa500"/>
<rect x="587.62" y="70.77" width="13.14" height="5.57" fill="#ffd000"/>
<rect x="600.46" y="70.77" width="13.14" height="5.57" fill="#fff500"/>
<rect x="613.30" y="70.77" width="13.14" height="5.57" fill="#ff160f"/>
<rect x="626.14" y="70.77" width="13.14" height="5.57" fill="#ff2f2d"/>
<rect x="638.98" y="70.77" width="13.14" height="5.57" fill="#ffa500"/>
<rect x="651.82" y="70.77" width="25.98" height="5.57" fill="#ff160f"/>
<rect x="677.50" y="70.77" width="13.14" height="5.57" fill="#fff500"/>
<rect x="690.34" y="70.77" width="13.14" height="5.57" fill="#ff4608"/>
<rect x="420.70" y="76.04" width="13.14" height="5.57" fill="#ff160f"/>
<rect x="433.54" y="76.04" width="13.14" height="5.57" fill="#ff2f2d"/>
<rect x="446.38" y="76.04" width="13.14" height="5.57" fill="#ff4646"/>
<rect x="459.22" y="76.04" width="13.14" height="5.57" fill="#ff2f2d"/>
<rect x="472.06" y="76.04" width="13.14" height="5.57" fill="#ff4608"/>
<rect x="484.90" y="76.04" width="13.14" height="5.57" fill="#ff160f"/>
<rect x="497.74" y="76.04" width="13.14" height="5.57" fill="#ff4608"/>
<rect x="510.58" y="76.04" width="13.14" height="5.57" fill="#ff160f"/>
<rect x="523.42" y="76.04" width="13.14" height="5.57" fill="#ff7800"/>
<rect x="536.26" y="76.04" width="13.14" height="5.57" fill="#fff500"/>
<rect x="549.10" y="76.04" width="13.14" height="5.57" fill="#deff19"/>
<rect x="561.94" y="76.04" width="13.14" height="5.57" fill="#2aebe4"/>
<rect x="574.78" y="76.04" width="13.14" height="5.57" fill="#ffd000"/>
<rect x="587.62" y="76.04" width="13.14" height="5.57" fill="#fff500"/>
<rect x="600.46" y="76.04" width="13.14" height="5.57" fill="#ff7800"/>
<rect x="613.30" y="76.04" width="13.14" height="5.57" fill="#ffa500"/>
<rect x="626.14" y="76.04" width="13.14" height="5.57" fill="#ff4608"/>
<rect x="638.98" y="76.04" width="13.14" height="5.57" fill="#ffa500"/>
<rect x="651.82" y="76.04" width="13.14" height="5.57" fill="#ff4608"/>
<rect x="664.66" y="76.04" width="13.14" height="5.57" fill="#ffa500"/>
<rect x="677.50" y="76.04" width="13.14" height="5.57" fill="#ff4608"/>
<rect x="690.34" y="76.04" width="13.14" height="5.57" fill="#22c4ea"/>
<rect x="420.70" y="81.31" width="13.14" height="5.57" fill="#ff4608"/>
<rect x="433.54" y="81.31" width="13.14" height="5.57" fill="#ff160f"/>
<rect x="446.38" y="81.31" width="13.14" height="5.57" fill="#ff2f2d"/>
<rect x="459.22" y="81.31" width="13.14" height="5.57" fill="#ffa500"/>
<rect x="472.06" y="81.31" width="25.98" height="5.57" fill="#ff160f"/>
<rect x="497.74" y="81.31" width="13.14" height="5.57" fill="#ffba00"/>
<rect x="510.58" y="81.31" width="13.14" height="5.57" fill="#ffa500"/>
<rect x="523.42" y="81.31" width="13.14" height="5.57" fill="#fff500"/>
<rect x="536.26" y="81.31" width="13.14" height="5.57" fill="#ccff28"/>
<rect x="549.10" y="81.31" width="38.82" height="5.57" fill="#fff500"/>
<rect x="587.62" y="81.31" width="13.14" height="5.57" fill="#ffd000"/>
<rect x="600.46" y="81.31" width="13.14" height="5.57" fill="#ffa500"/>
<rect x="613.30" y="81.31" width="13.14" height="5.57" fill="#ff7800"/>
<rect x="626.14" y="81.31" width="25.98" height="5.57" fill="#ff160f"/>
<rect x="651.82" y="81.31" width="13.14" height="5.57" fill="#ffa500"/>
<rect x="664.66" y="81.31" width="13.14" height="5.57" fill="#fff500"/>
<rect x="677.50" y="81.31" width="13.14" height="5.57" fill="#ff2f2d"/>
<rect x="690.34" y="81.31" width="13.14" height="5.57" fill="#b9ff37"/>
<rect x="420.70" y="86.58" width="13.14" height="5.57" fill="#ffa500"/>
<rect x="433.54" y="86.58" width="13.14" height="5.57" fill="#ffd000"/>
<rect x="446.38" y="86.58" width="13.14" height="5.57" fill="#ff160f"/>
<rect x="459.22" y="86.58" width="25.98" height="5.57" fill="#ff2f2d"/>
<rect x="484.90" y="86.58" width="13.14" height="5.57" fill="#ff160f"/>
<rect x="497.74" y="86.58" width="13.14" height="5.57" fill="#ff7800"/>
<rect x="510.58" y="86.58" width="13.14" height="5.57" fill="#ff4608"/>
<rect x="523.42" y="86.58" width="13.14" height="5.57" fill="#fff500"/>
<rect x="536.26" y="86.58" width="13.14" height="5.57" fill="#ff4608"/>
<rect x="549.10" y="86.58" width="13.14" height="5.57" fill="#ffd000"/>
<rect x="561.94" y="86.58" width="13.14" height="5.57" fill="#deff19"/>
<rect x="574.78" y="86.58" width="13.14" height="5.57" fill="#ffe200"/>
<rect x="587.62" y="86.58" width="38.82" height="5.57" fill="#fff500"/>
<rect x="626.14" y="86.58" width="13.14" height="5.57" fill="#deff19"/>
<rect x="638.98" y="86.58" width="13.14" height="5.57" fill="#ff4608"/>
<rect x="651.82" y="86.58" width="13.14" height="5.57" fill="#ff2f2d"/>
<rect x="664.66" y="86.58" width="13.14" height="5.57" fill="#ff160f"/>
<rect x="677.50" y="86.58" width="13.14" height="5.57" fill="#ff2f2d"/>
<rect x="690.34" y="86.58" width="13.14" height="5.57" fill="#ff4646"/>
<rect x="420.70" y="91.85" width="13.14" height="5.57" fill="#ff160f"/>
<rect x="433.54" y="91.85" width="13.14" height="5.57" fill="#ff7800"/>
<rect x="446.38" y="91.85" width="25.98" height="5.57" fill="#ff2f2d"/>
<rect x="472.06" y="91.85" width="13.14" height="5.57" fill="#ff4646"/>
<rect x="484.90" y="91.85" width="13.14" height="5.57" fill="#ff2f2d"/>
<rect x="497.74" y="91.85" width="13.14" height="5.57" fill="#ff160f"/>
<rect x="510.58" y="91.85" width="13.14" height="5.57" fill="#ffa500"/>
<rect x="523.42" y="91.85" width="13.14" height="5.57" fill="#ffe200"/>
<rect x="536.26" y="91.85" width="25.98" height="5.57" fill="#ff2f2d"/>
<rect x="561.94" y="91.85" width="25.98" height="5.57" fill="#deff19"/>
<rect x="587.62" y="91.85" width="13.14" height="5.57" fill="#fff500"/>
<rect x="600.46" y="91.85" width="13.14" height="5.57" fill="#deff19"/>
<rect x="613.30" y="91.85" width="13.14" height="5.57" fill="#fff500"/>
<rect x="626.14" y="91.85" width="25.98" height="5.57" fill="#ff160f"/>
<rect x="651.82" y="91.85" width="13.14" height="5.57" fill="#ff4646"/>
<rect x="664.66" y="91.85" width="25.98" height="5.57" fill="#ff160f"/>
<rect x="690.34" y="91.85" width="13.14" height="5.57" fill="#ff4646"/>
<rect x="420.70" y="97.12" width="13.14" height="5.57" fill="#ff160f"/>
<rect x="433.54" y="97.12" width="13.14" height="5.57" fill="#ff2f2d"/>
<rect x="446.38" y="97.12" width="13.14" height="5.57" fill="#ff160f"/>
<rect x="459.22" y="97.12" width="25.98" height="5.57" fill="#ff2f2d"/>
<rect x="484.90" y="97.12" width="13.14" height="5.57" fill="#ff160f"/>
<rect x="497.74" y="97.12" width="13.14" height="5.57" fill="#ffa500"/>
<rect x="510.58" y="97.12" width="13.14" height="5.57" fill="#eefa0c"/>
<rect x="523.42" y="97.12" width="13.14" height="5.57" fill="#ffd000"/>
<rect x="536.26" y="97.12" width="25.98" height="5.57" fill="#ff2f2d"/>
<rect x="561.94" y="97.12" width="13.14" height="5.57" fill="#ff4608"/>
<rect x="574.78" y="97.12" width="13.14" height="5.57" fill="#ffd000"/>
<rect x="587.62" y="97.12" width="13.14" height="5.57" fill="#fff500"/>
<rect x="600.46" y="97.12" width="25.98" height="5.57" fill="#deff19"/>
<rect x="626.14" y="97.12" width="13.14" height="5.57" fill="#ffa500"/>
<rect x="638.98" y="97.12" width="13.14" height="5.57" fill="#ff160f"/>
<rect x="651.82" y="97.12" width="13.14" height="5.57" fill="#ff2f2d"/>
<rect x="664.66" y="97.12" width="13.14" height="5.57" fill="#ff4646"/>
<rect x="677.50" y="97.12" width="13.14" height="5.57" fill="#ff2e0c"/>
<rect x="690.34" y="97.12" width="13.14" height="5.57" fill="#ff2f2d"/>
<rect x="420.70" y="102.39" width="13.14" height="5.57" fill="#ffa500"/>
<rect x="433.54" y="102.39" width="13.14" height="5.57" fill="#ff7800"/>
<rect x="446.38" y="102.39" width="13.14" height="5.57" fill="#ffa500"/>
<rect x="459.22" y="102.39" width="13.14" height="5.57" fill="#ff7800"/>
<rect x="472.06" y="102.39" width="25.98" height="5.57" fill="#fff500"/>
<rect x="497.74" y="102.39" width="13.14" height="5.57" fill="#87ff69"/>
<rect x="510.58" y="102.39" width="13.14" height="5.57" fill="#deff19"/>
<rect x="523.42" y="102.39" width="13.14" height="5.57" fill="#ff4608"/>
<rect x="536.26" y="102.39" width="13.14" height="5.57" fill="#ff4646"/>
<rect x="549.10" y="102.39" width="13.14" height="5.57" fill="#ff3a3a"/>
<rect x="561.94" y="102.39" width="25.98" height="5.57" fill="#ff160f"/>
<rect x="587.62" y="102.39" width="13.14" height="5.57" fill="#ff4608"/>
<rect x="600.46" y="102.39" width="13.14" height="5.57" fill="#87ff69"/>
<rect x="613.30" y="102.39" width="13.14" height="5.57" fill="#b9ff37"/>
<rect x="626.14" y="102.39" width="25.98" height="5.57" fill="#ffd000"/>
<rect x="651.82" y="102.39" width="13.14" height="5.57" fill="#ff160f"/>
<rect x="664.66" y="102.39" width="13.14" height="5.57" fill="#ff4608"/>
<rect x="677.50" y="102.39" width="25.98" height="5.57" fill="#ff160f"/>
<rect x="420.70" y="107.66" width="13.14" height="5.57" fill="#fff500"/>
<rect x="433.54" y="107.66" width="25.98" height="5.57" fill="#ffd000"/>
<rect x="459.22" y="107.66" width="13.14" height="5.57" fill="#ffa500"/>
<rect x="472.06" y="107.66" width="13.14" height="5.57" fill="#b9ff37"/>
<rect x="484.90" y="107.66" width="13.14" height="5.57" fill="#deff19"/>
<rect x="497.74" y="107.66" width="13.14" height="5.57" fill="#ffd000"/>
<rect x="510.58" y="107.66" width="13.14" height="5.57" fill="#ff160f"/>
<rect x="523.42" y="107.66" width="13.14" height="5.57" fill="#ffa500"/>
<rect x="536.26" y="107.66" width="13.14" height="5.57" fill="#ff4646"/>
<rect x="549.10" y="107.66" width="13.14" height="5.57" fill="#ff7800"/>
<rect x="561.94" y="107.66" width="13.14" height="5.57" fill="#ff4608"/>
<rect x="574.78" y="107.66" width="13.14" height="5.57" fill="#ffd000"/>
<rect x="587.62" y="107.66" width="13.14" height="5.57" fill="#b9ff37"/>
<rect x="600.46" y="107.66" width="13.14" height="5.57" fill="#ff7800"/>
<rect x="613.30" y="107.66" width="13.14" height="5.57" fill="#deff19"/>
<rect x="626.14" y="107.66" width="38.82" height="5.57" fill="#fff500"/>
<rect x="664.66" y="107.66" width="13.14" height="5.57" fill="#deff19"/>
<rect x="677.50" y="107.66" width="25.98" height="5.57" fill="#87ff69"/>
<rect x="420.70" y="112.93" width="13.14" height="5.57" fill="#ffd000"/>
<rect x="433.54" y="112.93" width="25.98" height="5.57" fill="#ff7800"/>
<rect x="459.22" y="112.93" width="13.14" height="5.57" fill="#ffd000"/>
<rect x="472.06" y="112.93" width="25.98" height="5.57" fill="#fff500"/>
<rect x="497.74" y="112.93" width="13.14" height="5.57" fill="#ffa500"/>
<rect x="510.58" y="112.93" width="13.14" height="5.57" fill="#ffd000"/>
<rect x="523.42" y="112.93" width="13.14" height="5.57" fill="#ff160f"/>
<rect x="536.26" y="112.93" width="13.14" height="5.57" fill="#ff4646"/>
<rect x="549.10" y="112.93" width="13.14" height="5.57" fill="#ff2e0c"/>
<rect x="561.94" y="112.93" width="13.14" height="5.57" fill="#ff4608"/>
<rect x="574.78" y="112.93" width="13.14" height="5.57" fill="#b9ff37"/>
<rect x="587.62" y="112.93" width="13.14" height="5.57" fill="#2aebe4"/>
<rect x="600.46" y="112.93" width="13.14" height="5.57" fill="#ffd000"/>
<rect x="613.30" y="112.93" width="13.14" height="5.57" fill="#b9ff37"/>
<rect x="626.14" y="112.93" width="13.14" height="5.57" fill="#ffa500"/>
<rect x="638.98" y="112.93" width="13.14" height="5.57" fill="#b9ff37"/>
<rect x="651.82" y="112.93" width="13.14" height="5.57" fill="#199ef0"/>
<rect x="664.66" y="112.93" width="25.98" height="5.57" fill="#2aebe4"/>
<rect x="690.34" y="112.93" width="13.14" height="5.57" fill="#87ff69"/>
<rect x="420.70" y="118.20" width="13.14" height="5.57" fill="#fff500"/>
<rect x="433.54" y="118.20" width="13.14" height="5.57" fill="#ffa500"/>
<rect x="446.38" y="118.20" width="13.14" height="5.57" fill="#fff500"/>
<rect x="459.22" y="118.20" width="13.14" height="5.57" fill="#deff19"/>
<rect x="472.06" y="118.20" width="13.14" height="5.57" fill="#ffd000"/>
<rect x="484.90" y="118.20" width="13.14" height="5.57" fill="#fff500"/>
<rect x="497.74" y="118.20" width="13.14" height="5.57" fill="#ffa500"/>
<rect x="510.58" y="118.20" width="13.14" height="5.57" fill="#fff500"/>
<rect x="523.42" y="118.20" width="13.14" height="5.57" fill="#ff160f"/>
<rect x="536.26" y="118.20" width="13.14" height="5.57" fill="#ff4646"/>
<rect x="549.10" y="118.20" width="25.98" height="5.57" fill="#ff160f"/>
<rect x="574.78" y="118.20" width="13.14" height="5.57" fill="#ffa500"/>
<rect x="587.62" y="118.20" width="13.14" height="5.57" fill="#deff19"/>
<rect x="600.46" y="118.20" width="25.98" height="5.57" fill="#fff500"/>
<rect x="626.14" y="118.20" width="13.14" height="5.57" fill="#b9ff37"/>
<rect x="638.98" y="118.20" width="13.14" height="5.57" fill="#deff19"/>
<rect x="651.82" y="118.20" width="13.14" height="5.57" fill="#b9ff37"/>
<rect x="664.66" y="118.20" width="13.14" height="5.57" fill="#a0ff50"/>
<rect x="677.50" y="118.20" width="13.14" height="5.57" fill="#b9ff37"/>
<rect x="690.34" y="118.20" width="13.14" height="5.57" fill="#ff160f"/>
<rect x="420.70" y="123.47" width="13.14" height="5.57" fill="#ff7800"/>
<rect x="433.54" y="123.47" width="38.82" height="5.57" fill="#fff500"/>
<rect x="472.06" y="123.47" width="25.98" height="5.57" fill="#ff7800"/>
<rect x="497.74" y="123.47" width="13.14" height="5.57" fill="#87ff69"/>
<rect x="510.58" y="123.47" width="13.14" height="5.57" fill="#deff19"/>
<rect x="523.42" y="123.47" width="13.14" height="5.57" fill="#ffa500"/>
<rect x="536.26" y="123.47" width="13.14" height="5.57" fill="#ff2f2d"/>
<rect x="549.10" y="123.47" width="38.82" height="5.57" fill="#ff160f"/>
<rect x="587.62" y="123.47" width="13.14" height="5.57" fill="#b9ff37"/>
<rect x="600.46" y="123.47" width="13.14" height="5.57" fill="#87ff69"/>
<rect x="613.30" y="123.47" width="13.14" height="5.57" fill="#2aebe4"/>
<rect x="626.14" y="123.47" width="13.14" height="5.57" fill="#b9ff37"/>
<rect x="638.98" y="123.47" width="13.14" height="5.57" fill="#ffa500"/>
<rect x="651.82" y="123.47" width="13.14" height="5.57" fill="#000fcd"/>
<rect x="664.66" y="123.47" width="13.14" height="5.57" fill="#ffa500"/>
<rect x="677.50" y="123.47" width="25.98" height="5.57" fill="#ff160f"/>
<rect x="420.70" y="128.74" width="25.98" height="5.57" fill="#ff160f"/>
<rect x="446.38" y="128.74" width="25.98" height="5.57" fill="#ff2f2d"/>
<rect x="472.06" y="128.74" width="25.98" height="5.57" fill="#ff160f"/>
<rect x="497.74" y="128.74" width="13.14" height="5.57" fill="#ffa500"/>
<rect x="510.58" y="128.74" width="13.14" height="5.57" fill="#fff500"/>
<rect x="523.42" y="128.74" width="13.14" height="5.57" fill="#ffd000"/>
<rect x="536.26" y="128.74" width="25.98" height="5.57" fill="#ff2f2d"/>
<rect x="561.94" y="128.74" width="13.14" height="5.57" fill="#ff160f"/>
<rect x="574.78" y="128.74" width="38.82" height="5.57" fill="#deff19"/>
<rect x="613.30" y="128.74" width="25.98" height="5.57" fill="#b9ff37"/>
<rect x="638.98" y="128.74" width="13.14" height="5.57" fill="#ff160f"/>
<rect x="651.82" y="128.74" width="38.82" height="5.57" fill="#ff2f2d"/>
<rect x="690.34" y="128.74" width="13.14" height="5.57" fill="#ff4608"/>
<rect x="420.70" y="134.01" width="13.14" height="5.57" fill="#ff160f"/>
<rect x="433.54" y="134.01" width="13.14" height="5.57" fill="#ff7800"/>
<rect x="446.38" y="134.01" width="13.14" height="5.57" fill="#ff4646"/>
<rect x="459.22" y="134.01" width="13.14" height="5.57" fill="#fff500"/>
<rect x="472.06" y="134.01" width="13.14" height="5.57" fill="#a0ff50"/>
<rect x="484.90" y="134.01" width="25.98" height="5.57" fill="#ff160f"/>
<rect x="510.58" y="134.01" width="13.14" height="5.57" fill="#ff4608"/>
<rect x="523.42" y="134.01" width="13.14" height="5.57" fill="#fff500"/>
<rect x="536.26" y="134.01" width="13.14" height="5.57" fill="#ff160f"/>
<rect x="549.10" y="134.01" width="13.14" height="5.57" fill="#ff2f2d"/>
<rect x="561.94" y="134.01" width="13.14" height="5.57" fill="#ffd000"/>
<rect x="574.78" y="134.01" width="38.82" height="5.57" fill="#fff500"/>
<rect x="613.30" y="134.01" width="13.14" height="5.57" fill="#deff19"/>
<rect x="626.14" y="134.01" width="25.98" height="5.57" fill="#ff160f"/>
<rect x="651.82" y="134.01" width="25.98" height="5.57" fill="#ff4646"/>
<rect x="677.50" y="134.01" width="13.14" height="5.57" fill="#ff160f"/>
<rect x="690.34" y="134.01" width="13.14" height="5.57" fill="#ff7800"/>
<rect x="420.70" y="139.28" width="13.14" height="5.57" fill="#ffa500"/>
<rect x="433.54" y="139.28" width="13.14" height="5.57" fill="#ff160f"/>
<rect x="446.38" y="139.28" width="13.14" height="5.57" fill="#ff2f2d"/>
<rect x="459.22" y="139.28" width="25.98" height="5.57" fill="#ff160f"/>
<rect x="484.90" y="139.28" width="13.14" height="5.57" fill="#ff2f2d"/>
<rect x="497.74" y="139.28" width="13.14" height="5.57" fill="#ff7800"/>
<rect x="510.58" y="139.28" width="13.14" height="5.57" fill="#ff160f"/>
<rect x="523.42" y="139.28" width="13.14" height="5.57" fill="#fff500"/>
<rect x="536.26" y="139.28" width="13.14" height="5.57" fill="#ffa500"/>
<rect x="549.10" y="139.28" width="13.14" height="5.57" fill="#ff8e00"/>
<rect x="561.94" y="139.28" width="13.14" height="5.57" fill="#ffa500"/>
<rect x="574.78" y="139.28" width="13.14" height="5.57" fill="#b9ff37"/>
<rect x="587.62" y="139.28" width="25.98" height="5.57" fill="#fff500"/>
<rect x="613.30" y="139.28" width="13.14" height="5.57" fill="#ff4608"/>
<rect x="626.14" y="139.28" width="13.14" height="5.57" fill="#ff160f"/>
<rect x="638.98" y="139.28" width="13.14" height="5.57" fill="#fff500"/>
<rect x="651.82" y="139.28" width="13.14" height="5.57" fill="#ff7800"/>
<rect x="664.66" y="139.28" width="25.98" height="5.57" fill="#ff2f2d"/>
<rect x="690.34" y="139.28" width="13.14" height="5.57" fill="#ff4646"/>
<rect x="420.70" y="144.55" width="13.14" height="5.57" fill="#ff160f"/>
<rect x="433.54" y="144.55" width="13.14" height="5.57" fill="#ff2f2d"/>
<rect x="446.38" y="144.55" width="13.14" height="5.57" fill="#ff4646"/>
<rect x="459.22" y="144.55" width="13.14" height="5.57" fill="#ffd000"/>
<rect x="472.06" y="144.55" width="13.14" height="5.57" fill="#ffa500"/>
<rect x="484.90" y="144.55" width="13.14" height="5.57" fill="#ff7800"/>
<rect x="497.74" y="144.55" width="13.14" height="5.57" fill="#ffd000"/>
<rect x="510.58" y="144.55" width="25.98" height="5.57" fill="#fff500"/>
<rect x="536.26" y="144.55" width="13.14" height="5.57" fill="#ffa500"/>
<rect x="549.10" y="144.55" width="13.14" height="5.57" fill="#ffba00"/>
<rect x="561.94" y="144.55" width="13.14" height="5.57" fill="#ffd000"/>
<rect x="574.78" y="144.55" width="25.98" height="5.57" fill="#fff500"/>
<rect x="600.46" y="144.55" width="13.14" height="5.57" fill="#ffd000"/>
<rect x="613.30" y="144.55" width="13.14" height="5.57" fill="#fff500"/>
<rect x="626.14" y="144.55" width="13.14" height="5.57" fill="#deff19"/>
<rect x="638.98" y="144.55" width="13.14" height="5.57" fill="#ff7800"/>
<rect x="651.82" y="144.55" width="13.14" height="5.57" fill="#ff4608"/>
<rect x="664.66" y="144.55" width="13.14" height="5.57" fill="#fff500"/>
<rect x="677.50" y="144.55" width="13.14" height="5.57" fill="#ff160f"/>
<rect x="690.34" y="144.55" width="13.14" height="5.57" fill="#fff500"/>
<rect x="420.70" y="149.82" width="13.14" height="5.57" fill="#ff2f2d"/>
<rect x="433.54" y="149.82" width="13.14" height="5.57" fill="#ff160f"/>
<rect x="446.38" y="149.82" width="13.14" height="5.57" fill="#ff4646"/>
<rect x="459.22" y="149.82" width="13.14" height="5.57" fill="#ff2f2d"/>
<rect x="472.06" y="149.82" width="13.14" height="5.57" fill="#ff4646"/>
<rect x="484.90" y="149.82" width="13.14" height="5.57" fill="#ff160f"/>
<rect x="497.74" y="149.82" width="25.98" height="5.57" fill="#ff2f2d"/>
<rect x="523.42" y="149.82" width="13.14" height="5.57" fill="#ff160f"/>
<rect x="536.26" y="149.82" width="13.14" height="5.57" fill="#ff7800"/>
<rect x="549.10" y="149.82" width="13.14" height="5.57" fill="#b9ff37"/>
<rect x="561.94" y="149.82" width="13.14" height="5.57" fill="#2aebe4"/>
<rect x="574.78" y="149.82" width="13.14" height="5.57" fill="#ffd000"/>
<rect x="587.62" y="149.82" width="13.14" height="5.57" fill="#b9ff37"/>
<rect x="600.46" y="149.82" width="13.14" height="5.57" fill="#ff4608"/>
<rect x="613.30" y="149.82" width="13.14" height="5.57" fill="#ffa500"/>
<rect x="626.14" y="149.82" width="25.98" height="5.57" fill="#ff4608"/>
<rect x="651.82" y="149.82" width="25.98" height="5.57" fill="#ff160f"/>
<rect x="677.50" y="149.82" width="13.14" height="5.57" fill="#ffa500"/>
<rect x="690.34" y="149.82" width="13.14" height="5.57" fill="#ff160f"/>
<rect x="420.70" y="155.09" width="25.98" height="5.57" fill="#ff160f"/>
<rect x="446.38" y="155.09" width="25.98" height="5.57" fill="#ff2f2d"/>
<rect x="472.06" y="155.09" width="51.66" height="5.57" fill="#ff4646"/>
<rect x="523.42" y="155.09" width="13.14" height="5.57" fill="#ff160f"/>
<rect x="536.26" y="155.09" width="13.14" height="5.57" fill="#ff4608"/>
<rect x="549.10" y="155.09" width="13.14" height="5.57" fill="#3ef2c7"/>
<rect x="561.94" y="155.09" width="13.14" height="5.57" fill="#deff19"/>
<rect x="574.78" y="155.09" width="13.14" height="5.57" fill="#fff500"/>
<rect x="587.62" y="155.09" width="13.14" height="5.57" fill="#ff160f"/>
<rect x="600.46" y="155.09" width="13.14" height="5.57" fill="#ff4608"/>
<rect x="613.30" y="155.09" width="13.14" height="5.57" fill="#ff2f2d"/>
<rect x="626.14" y="155.09" width="13.14" height="5.57" fill="#fff500"/>
<rect x="638.98" y="155.09" width="13.14" height="5.57" fill="#ff7800"/>
<rect x="651.82" y="155.09" width="13.14" height="5.57" fill="#ff4608"/>
<rect x="664.66" y="155.09" width="13.14" height="5.57" fill="#ffd000"/>
<rect x="677.50" y="155.09" width="13.14" height="5.57" fill="#ff160f"/>
<rect x="690.34" y="155.09" width="13.14" height="5.57" fill="#b9ff37"/>
<rect x="420.70" y="160.36" width="13.14" height="5.57" fill="#ff160f"/>
<rect x="433.54" y="160.36" width="13.14" height="5.57" fill="#ff4608"/>
<rect x="446.38" y="160.36" width="13.14" height="5.57" fill="#ff160f"/>
<rect x="459.22" y="160.36" width="13.14" height="5.57" fill="#ff2f2d"/>
<rect x="472.06" y="160.36" width="13.14" height="5.57" fill="#ff4646"/>
<rect x="484.90" y="160.36" width="38.82" height="5.57" fill="#ff2f2d"/>
<rect x="523.42" y="160.36" width="13.14" height="5.57" fill="#ff160f"/>
<rect x="536.26" y="160.36" width="13.14" height="5.57" fill="#ff4608"/>
<rect x="549.10" y="160.36" width="13.14" height="5.57" fill="#ffa500"/>
<rect x="561.94" y="160.36" width="13.14" height="5.57" fill="#deff19"/>
<rect x="574.78" y="160.36" width="13.14" height="5.57" fill="#ffd000"/>
<rect x="587.62" y="160.36" width="25.98" height="5.57" fill="#ffa500"/>
<rect x="613.30" y="160.36" width="13.14" height="5.57" fill="#ff2f2d"/>
<rect x="626.14" y="160.36" width="13.14" height="5.57" fill="#ffa500"/>
<rect x="638.98" y="160.36" width="13.14" height="5.57" fill="#0a52e1"/>
<rect x="651.82" y="160.36" width="38.82" height="5.57" fill="#ff160f"/>
<rect x="690.34" y="160.36" width="13.14" height="5.57" fill="#ff4608"/>
<rect x="420.70" y="165.63" width="13.14" height="5.57" fill="#fff500"/>
<rect x="433.54" y="165.63" width="13.14" height="5.57" fill="#deff19"/>
<rect x="446.38" y="165.63" width="13.14" height="5.57" fill="#ffd000"/>
<rect x="459.22" y="165.63" width="13.14" height="5.57" fill="#ffa500"/>
<rect x="472.06" y="165.63" width="13.14" height="5.57" fill="#ff4608"/>
<rect x="484.90" y="165.63" width="25.98" height="5.57" fill="#ff160f"/>
<rect x="510.58" y="165.63" width="13.14" height="5.57" fill="#ff4608"/>
<rect x="523.42" y="165.63" width="13.14" height="5.57" fill="#ff7800"/>
<rect x="536.26" y="165.63" width="13.14" height="5.57" fill="#ffa500"/>
<rect x="549.10" y="165.63" width="13.14" height="5.57" fill="#deff19"/>
<rect x="561.94" y="165.63" width="13.14" height="5.57" fill="#b9ff37"/>
<rect x="574.78" y="165.63" width="25.98" height="5.57" fill="#ffa500"/>
<rect x="600.46" y="165.63" width="13.14" height="5.57" fill="#ff160f"/>
<rect x="613.30" y="165.63" width="13.14" height="5.57" fill="#ff7800"/>
<rect x="626.14" y="165.63" width="38.82" height="5.57" fill="#ffa500"/>
<rect x="664.66" y="165.63" width="13.14" height="5.57" fill="#fff500"/>
<rect x="677.50" y="165.63" width="13.14" height="5.57" fill="#52f8aa"/>
<rect x="690.34" y="165.63" width="13.14" height="5.57" fill="#fff500"/>
<rect x="420.70" y="170.90" width="25.98" height="5.57" fill="#ff160f"/>
<rect x="446.38" y="170.90" width="13.14" height="5.57" fill="#ff2f2d"/>
<rect x="459.22" y="170.90" width="13.14" height="5.57" fill="#ff4646"/>
<rect x="472.06" y="170.90" width="51.66" height="5.57" fill="#ff2f2d"/>
<rect x="523.42" y="170.90" width="13.14" height="5.57" fill="#ff160f"/>
<rect x="536.26" y="170.90" width="13.14" height="5.57" fill="#ff4608"/>
<rect x="549.10" y="170.90" width="13.14" height="5.57" fill="#ff8e00"/>
<rect x="561.94" y="170.90" width="13.14" height="5.57" fill="#ff7800"/>
<rect x="574.78" y="170.90" width="13.14" height="5.57" fill="#ffa500"/>
<rect x="587.62" y="170.90" width="64.50" height="5.57" fill="#ff160f"/>
<rect x="651.82" y="170.90" width="13.14" height="5.57" fill="#ff2f2d"/>
<rect x="664.66" y="170.90" width="13.14" height="5.57" fill="#ff160f"/>
<rect x="677.50" y="170.90" width="13.14" height="5.57" fill="#deff19"/>
<rect x="690.34" y="170.90" width="13.14" height="5.57" fill="#ff2f2d"/>
<rect x="420.70" y="176.17" width="13.14" height="5.57" fill="#ff160f"/>
<rect x="433.54" y="176.17" width="13.14" height="5.57" fill="#ff7800"/>
<rect x="446.38" y="176.17" width="25.98" height="5.57" fill="#ff2f2d"/>
<rect x="472.06" y="176.17" width="13.14" height="5.57" fill="#ff4646"/>
<rect x="484.90" y="176.17" width="13.14" height="5.57" fill="#ff5f5f"/>
<rect x="497.74" y="176.17" width="13.14" height="5.57" fill="#ff4646"/>
<rect x="510.58" y="176.17" width="25.98" height="5.57" fill="#ff2f2d"/>
<rect x="536.26" y="176.17" width="13.14" height="5.57" fill="#ff4608"/>
<rect x="549.10" y="176.17" width="13.14" height="5.57" fill="#ffd000"/>
<rect x="561.94" y="176.17" width="25.98" height="5.57" fill="#fff500"/>
<rect x="587.62" y="176.17" width="13.14" height="5.57" fill="#ff4608"/>
<rect x="600.46" y="176.17" width="38.82" height="5.57" fill="#ff160f"/>
<rect x="638.98" y="176.17" width="25.98" height="5.57" fill="#ff2f2d"/>
<rect x="664.66" y="176.17" width="13.14" height="5.57" fill="#ffd000"/>
<rect x="677.50" y="176.17" width="25.98" height="5.57" fill="#ff4608"/>
<rect x="420.70" y="181.44" width="25.98" height="5.57" fill="#ff2f2d"/>
<rect x="446.38" y="181.44" width="13.14" height="5.57" fill="#ff4646"/>
<rect x="459.22" y="181.44" width="25.98" height="5.57" fill="#ff2f2d"/>
<rect x="484.90" y="181.44" width="13.14" height="5.57" fill="#ff4646"/>
<rect x="497.74" y="181.44" width="13.14" height="5.57" fill="#ff160f"/>
<rect x="510.58" y="181.44" width="13.14" height="5.57" fill="#ffa500"/>
<rect x="523.42" y="181.44" width="13.14" height="5.57" fill="#ff160f"/>
<rect x="536.26" y="181.44" width="13.14" height="5.57" fill="#ffa500"/>
<rect x="549.10" y="181.44" width="13.14" height="5.57" fill="#deff19"/>
<rect x="561.94" y="181.44" width="13.14" height="5.57" fill="#0a52e1"/>
<rect x="574.78" y="181.44" width="13.14" height="5.57" fill="#ffd000"/>
<rect x="587.62" y="181.44" width="13.14" height="5.57" fill="#ffa500"/>
<rect x="600.46" y="181.44" width="13.14" height="5.57" fill="#ff8e00"/>
<rect x="613.30" y="181.44" width="13.14" height="5.57" fill="#ff5f04"/>
<rect x="626.14" y="181.44" width="13.14" height="5.57" fill="#ffa500"/>
<rect x="638.98" y="181.44" width="13.14" height="5.57" fill="#ff2f2d"/>
<rect x="651.82" y="181.44" width="25.98" height="5.57" fill="#ff160f"/>
<rect x="677.50" y="181.44" width="13.14" height="5.57" fill="#ff4608"/>
<rect x="690.34" y="181.44" width="13.14" height="5.57" fill="#ff160f"/>
<rect x="420.70" y="186.71" width="13.14" height="5.57" fill="#ff160f"/>
<rect x="433.54" y="186.71" width="13.14" height="5.57" fill="#ff2f2d"/>
<rect x="446.38" y="186.71" width="13.14" height="5.57" fill="#ff4646"/>
<rect x="459.22" y="186.71" width="13.14" height="5.57" fill="#ff160f"/>
<rect x="472.06" y="186.71" width="13.14" height="5.57" fill="#ff4646"/>
<rect x="484.90" y="186.71" width="13.14" height="5.57" fill="#ff160f"/>
<rect x="497.74" y="186.71" width="13.14" height="5.57" fill="#ff4608"/>
<rect x="510.58" y="186.71" width="13.14" height="5.57" fill="#ffd000"/>
<rect x="523.42" y="186.71" width="13.14" height="5.57" fill="#fff500"/>
<rect x="536.26" y="186.71" width="13.14" height="5.57" fill="#deff19"/>
<rect x="549.10" y="186.71" width="13.14" height="5.57" fill="#ffba00"/>
<rect x="561.94" y="186.71" width="13.14" height="5.57" fill="#b9ff37"/>
<rect x="574.78" y="186.71" width="13.14" height="5.57" fill="#deff19"/>
<rect x="587.62" y="186.71" width="13.14" height="5.57" fill="#fff500"/>
<rect x="600.46" y="186.71" width="13.14" height="5.57" fill="#ffa500"/>
<rect x="613.30" y="186.71" width="25.98" height="5.57" fill="#ffd000"/>
<rect x="638.98" y="186.71" width="13.14" height="5.57" fill="#ff2f2d"/>
<rect x="651.82" y="186.71" width="13.14" height="5.57" fill="#ff4646"/>
<rect x="664.66" y="186.71" width="13.14" height="5.57" fill="#ff160f"/>
<rect x="677.50" y="186.71" width="25.98" height="5.57" fill="#ff4646"/>
<rect x="420.70" y="191.98" width="13.14" height="5.57" fill="#deff19"/>
<rect x="433.54" y="191.98" width="51.66" height="5.57" fill="#ff2f2d"/>
<rect x="484.90" y="191.98" width="13.14" height="5.57" fill="#ff160f"/>
<rect x="497.74" y="191.98" width="13.14" height="5.57" fill="#ff4646"/>
<rect x="510.58" y="191.98" width="13.14" height="5.57" fill="#ff2f2d"/>
<rect x="523.42" y="191.98" width="13.14" height="5.57" fill="#ffd000"/>
<rect x="536.26" y="191.98" width="13.14" height="5.57" fill="#ff160f"/>
<rect x="549.10" y="191.98" width="13.14" height="5.57" fill="#fff500"/>
<rect x="561.94" y="191.98" width="25.98" height="5.57" fill="#ffd000"/>
<rect x="587.62" y="191.98" width="25.98" height="5.57" fill="#fff500"/>
<rect x="613.30" y="191.98" width="13.14" height="5.57" fill="#ff4608"/>
<rect x="626.14" y="191.98" width="13.14" height="5.57" fill="#ff160f"/>
<rect x="638.98" y="191.98" width="64.50" height="5.57" fill="#ff4646"/>
<rect x="420.70" y="197.25" width="13.14" height="5.57" fill="#ff160f"/>
<rect x="433.54" y="197.25" width="25.98" height="5.57" fill="#ff2f2d"/>
<rect x="459.22" y="197.25" width="13.14" height="5.57" fill="#ff160f"/>
<rect x="472.06" y="197.25" width="13.14" height="5.57" fill="#ff2f2d"/>
<rect x="484.90" y="197.25" width="13.14" height="5.57" fill="#fff500"/>
<rect x="497.74" y="197.25" width="13.14" height="5.57" fill="#ff160f"/>
<rect x="510.58" y="197.25" width="25.98" height="5.57" fill="#ffd000"/>
<rect x="536.26" y="197.25" width="13.14" height="5.57" fill="#ff2f2d"/>
<rect x="549.10" y="197.25" width="13.14" height="5.57" fill="#ff160f"/>
<rect x="561.94" y="197.25" width="13.14" height="5.57" fill="#ffa500"/>
<rect x="574.78" y="197.25" width="25.98" height="5.57" fill="#ffd000"/>
<rect x="600.46" y="197.25" width="13.14" height="5.57" fill="#fff500"/>
<rect x="613.30" y="197.25" width="13.14" height="5.57" fill="#ff7800"/>
<rect x="626.14" y="197.25" width="13.14" height="5.57" fill="#ff160f"/>
<rect x="638.98" y="197.25" width="25.98" height="5.57" fill="#ff4646"/>
<rect x="664.66" y="197.25" width="13.14" height="5.57" fill="#ff5252"/>
<rect x="677.50" y="197.25" width="13.14" height="5.57" fill="#ff160f"/>
<rect x="690.34" y="197.25" width="13.14" height="5.57" fill="#ff2f2d"/>
<rect x="420.70" y="202.52" width="25.98" height="5.57" fill="#ff160f"/>
<rect x="446.38" y="202.52" width="38.82" height="5.57" fill="#ff2f2d"/>
<rect x="484.90" y="202.52" width="13.14" height="5.57" fill="#ff160f"/>
<rect x="497.74" y="202.52" width="13.14" height="5.57" fill="#ff7800"/>
<rect x="510.58" y="202.52" width="13.14" height="5.57" fill="#fff500"/>
<rect x="523.42" y="202.52" width="13.14" height="5.57" fill="#ff8e00"/>
<rect x="536.26" y="202.52" width="13.14" height="5.57" fill="#ff2f2d"/>
<rect x="549.10" y="202.52" width="25.98" height="5.57" fill="#ff160f"/>
<rect x="574.78" y="202.52" width="25.98" height="5.57" fill="#fff500"/>
<rect x="600.46" y="202.52" width="13.14" height="5.57" fill="#deff19"/>
<rect x="613.30" y="202.52" width="13.14" height="5.57" fill="#fff500"/>
<rect x="626.14" y="202.52" width="13.14" height="5.57" fill="#ff4608"/>
<rect x="638.98" y="202.52" width="25.98" height="5.57" fill="#ff160f"/>
<rect x="664.66" y="202.52" width="13.14" height="5.57" fill="#ff4646"/>
<rect x="677.50" y="202.52" width="13.14" height="5.57" fill="#ff160f"/>
<rect x="690.34" y="202.52" width="13.14" height="5.57" fill="#ff5252"/>
<rect x="420.70" y="207.79" width="13.14" height="5.57" fill="#ffa500"/>
<rect x="433.54" y="207.79" width="13.14" height="5.57" fill="#ff7800"/>
<rect x="446.38" y="207.79" width="13.14" height="5.57" fill="#ffd000"/>
<rect x="459.22" y="207.79" width="13.14" height="5.57" fill="#fff500"/>
<rect x="472.06" y="207.79" width="13.14" height="5.57" fill="#ffa500"/>
<rect x="484.90" y="207.79" width="13.14" height="5.57" fill="#ff7800"/>
<rect x="497.74" y="207.79" width="13.14" height="5.57" fill="#fff500"/>
<rect x="510.58" y="207.79" width="13.14" height="5.57" fill="#deff19"/>
<rect x="523.42" y="207.79" width="13.14" height="5.57" fill="#ffba00"/>
<rect x="536.26" y="207.79" width="25.98" height="5.57" fill="#ff2f2d"/>
<rect x="561.94" y="207.79" width="13.14" height="5.57" fill="#ff160f"/>
<rect x="574.78" y="207.79" width="13.14" height="5.57" fill="#fff500"/>
<rect x="587.62" y="207.79" width="13.14" height="5.57" fill="#ffa500"/>
<rect x="600.46" y="207.79" width="13.14" height="5.57" fill="#b9ff37"/>
<rect x="613.30" y="207.79" width="13.14" height="5.57" fill="#eefa0c"/>
<rect x="626.14" y="207.79" width="13.14" height="5.57" fill="#ffd000"/>
<rect x="638.98" y="207.79" width="25.98" height="5.57" fill="#ff160f"/>
<rect x="664.66" y="207.79" width="13.14" height="5.57" fill="#ff2f2d"/>
<rect x="677.50" y="207.79" width="13.14" height="5.57" fill="#ff4608"/>
<rect x="690.34" y="207.79" width="13.14" height="5.57" fill="#fff500"/>
<rect x="420.70" y="213.06" width="13.14" height="5.57" fill="#fff500"/>
<rect x="433.54" y="213.06" width="25.98" height="5.57" fill="#ffa500"/>
<rect x="459.22" y="213.06" width="13.14" height="5.57" fill="#fff500"/>
<rect x="472.06" y="213.06" width="25.98" height="5.57" fill="#ffa500"/>
<rect x="497.74" y="213.06" width="38.82" height="5.57" fill="#ff160f"/>
<rect x="536.26" y="213.06" width="13.14" height="5.57" fill="#ff2f2d"/>
<rect x="549.10" y="213.06" width="13.14" height="5.57" fill="#ff7800"/>
<rect x="561.94" y="213.06" width="13.14" height="5.57" fill="#ffd000"/>
<rect x="574.78" y="213.06" width="51.66" height="5.57" fill="#ff160f"/>
<rect x="626.14" y="213.06" width="13.14" height="5.57" fill="#ff8e00"/>
<rect x="638.98" y="213.06" width="13.14" height="5.57" fill="#ff4608"/>
<rect x="651.82" y="213.06" width="13.14" height="5.57" fill="#ffd000"/>
<rect x="664.66" y="213.06" width="13.14" height="5.57" fill="#fff500"/>
<rect x="677.50" y="213.06" width="13.14" height="5.57" fill="#ff160f"/>
<rect x="690.34" y="213.06" width="13.14" height="5.57" fill="#87ff69"/>
<rect x="420.70" y="218.33" width="13.14" height="5.57" fill="#87ff69"/>
<rect x="433.54" y="218.33" width="13.14" height="5.57" fill="#ff4608"/>
<rect x="446.38" y="218.33" width="13.14" height="5.57" fill="#ffa500"/>
<rect x="459.22" y="218.33" width="13.14" height="5.57" fill="#ffd000"/>
<rect x="472.06" y="218.33" width="13.14" height="5.57" fill="#ff160f"/>
<rect x="484.90" y="218.33" width="13.14" height="5.57" fill="#ff4608"/>
<rect x="497.74" y="218.33" width="25.98" height="5.57" fill="#ff5f04"/>
<rect x="523.42" y="218.33" width="13.14" height="5.57" fill="#ff8e00"/>
<rect x="536.26" y="218.33" width="13.14" height="5.57" fill="#ff160f"/>
<rect x="549.10" y="218.33" width="13.14" height="5.57" fill="#ff5f04"/>
<rect x="561.94" y="218.33" width="13.14" height="5.57" fill="#ffa500"/>
<rect x="574.78" y="218.33" width="13.14" height="5.57" fill="#2aebe4"/>
<rect x="587.62" y="218.33" width="13.14" height="5.57" fill="#ffa500"/>
<rect x="600.46" y="218.33" width="25.98" height="5.57" fill="#ff4608"/>
<rect x="626.14" y="218.33" width="13.14" height="5.57" fill="#ff5f04"/>
<rect x="638.98" y="218.33" width="13.14" height="5.57" fill="#fff500"/>
<rect x="651.82" y="218.33" width="13.14" height="5.57" fill="#52f8aa"/>
<rect x="664.66" y="218.33" width="13.14" height="5.57" fill="#87ff69"/>
<rect x="677.50" y="218.33" width="13.14" height="5.57" fill="#0a52e1"/>
<rect x="690.34" y="218.33" width="13.14" height="5.57" fill="#a0ff50"/>
</g>
<rect x="414.80" y="12.9" width="294" height="211.0" fill="none" stroke="#000" stroke-width="1.7"/>
<line x1="420.91" y1="223.90" x2="420.91" y2="220.90" stroke="#000" stroke-width="1.6"/>
<line x1="420.91" y1="12.90" x2="420.91" y2="15.90" stroke="#000" stroke-width="1.6"/>
<line x1="453.07" y1="223.90" x2="453.07" y2="220.90" stroke="#000" stroke-width="1.6"/>
<line x1="453.07" y1="12.90" x2="453.07" y2="15.90" stroke="#000" stroke-width="1.6"/>
<line x1="478.01" y1="223.90" x2="478.01" y2="220.90" stroke="#000" stroke-width="1.6"/>
<line x1="478.01" y1="12.90" x2="478.01" y2="15.90" stroke="#000" stroke-width="1.6"/>
<line x1="498.40" y1="223.90" x2="498.40" y2="220.90" stroke="#000" stroke-width="1.6"/>
<line x1="498.40" y1="12.90" x2="498.40" y2="15.90" stroke="#000" stroke-width="1.6"/>
<line x1="515.63" y1="223.90" x2="515.63" y2="220.90" stroke="#000" stroke-width="1.6"/>
<line x1="515.63" y1="12.90" x2="515.63" y2="15.90" stroke="#000" stroke-width="1.6"/>
<line x1="530.56" y1="223.90" x2="530.56" y2="220.90" stroke="#000" stroke-width="1.6"/>
<line x1="530.56" y1="12.90" x2="530.56" y2="15.90" stroke="#000" stroke-width="1.6"/>
<line x1="543.72" y1="223.90" x2="543.72" y2="220.90" stroke="#000" stroke-width="1.6"/>
<line x1="543.72" y1="12.90" x2="543.72" y2="15.90" stroke="#000" stroke-width="1.6"/>
<line x1="555.50" y1="223.90" x2="555.50" y2="218.40" stroke="#000" stroke-width="1.6"/>
<line x1="555.50" y1="12.90" x2="555.50" y2="18.40" stroke="#000" stroke-width="1.6"/>
<line x1="632.99" y1="223.90" x2="632.99" y2="220.90" stroke="#000" stroke-width="1.6"/>
<line x1="632.99" y1="12.90" x2="632.99" y2="15.90" stroke="#000" stroke-width="1.6"/>
<line x1="678.31" y1="223.90" x2="678.31" y2="220.90" stroke="#000" stroke-width="1.6"/>
<line x1="678.31" y1="12.90" x2="678.31" y2="15.90" stroke="#000" stroke-width="1.6"/>
<line x1="414.80" y1="221.00" x2="420.30" y2="221.00" stroke="#000" stroke-width="1.6"/>
<line x1="708.80" y1="221.00" x2="703.30" y2="221.00" stroke="#000" stroke-width="1.6"/>
<line x1="414.80" y1="187.45" x2="417.80" y2="187.45" stroke="#000" stroke-width="1.6"/>
<line x1="708.80" y1="187.45" x2="705.80" y2="187.45" stroke="#000" stroke-width="1.6"/>
<line x1="414.80" y1="153.90" x2="420.30" y2="153.90" stroke="#000" stroke-width="1.6"/>
<line x1="708.80" y1="153.90" x2="703.30" y2="153.90" stroke="#000" stroke-width="1.6"/>
<line x1="414.80" y1="120.35" x2="417.80" y2="120.35" stroke="#000" stroke-width="1.6"/>
<line x1="708.80" y1="120.35" x2="705.80" y2="120.35" stroke="#000" stroke-width="1.6"/>
<line x1="414.80" y1="86.80" x2="420.30" y2="86.80" stroke="#000" stroke-width="1.6"/>
<line x1="708.80" y1="86.80" x2="703.30" y2="86.80" stroke="#000" stroke-width="1.6"/>
<line x1="414.80" y1="53.25" x2="417.80" y2="53.25" stroke="#000" stroke-width="1.6"/>
<line x1="708.80" y1="53.25" x2="705.80" y2="53.25" stroke="#000" stroke-width="1.6"/>
<line x1="414.80" y1="19.70" x2="420.30" y2="19.70" stroke="#000" stroke-width="1.6"/>
<line x1="708.80" y1="19.70" x2="703.30" y2="19.70" stroke="#000" stroke-width="1.6"/>
<circle cx="485" cy="144" r="4.7"/>
<rect x="709.40" y="12.90" width="20.90" height="211.00" fill="url(#cb)"/>
<rect x="709.40" y="12.90" width="20.90" height="211.00" fill="none" stroke="#000" stroke-width="1.2"/>
<line x1="709.40" y1="204.10" x2="712.40" y2="204.10" stroke="#000" stroke-width="1.1"/>
<line x1="730.30" y1="204.10" x2="727.30" y2="204.10" stroke="#000" stroke-width="1.1"/>
<line x1="709.40" y1="183.00" x2="712.40" y2="183.00" stroke="#000" stroke-width="1.1"/>
<line x1="730.30" y1="183.00" x2="727.30" y2="183.00" stroke="#000" stroke-width="1.1"/>
<line x1="709.40" y1="161.90" x2="712.40" y2="161.90" stroke="#000" stroke-width="1.1"/>
<line x1="730.30" y1="161.90" x2="727.30" y2="161.90" stroke="#000" stroke-width="1.1"/>
<line x1="709.40" y1="140.80" x2="712.40" y2="140.80" stroke="#000" stroke-width="1.1"/>
<line x1="730.30" y1="140.80" x2="727.30" y2="140.80" stroke="#000" stroke-width="1.1"/>
<line x1="709.40" y1="119.70" x2="712.40" y2="119.70" stroke="#000" stroke-width="1.1"/>
<line x1="730.30" y1="119.70" x2="727.30" y2="119.70" stroke="#000" stroke-width="1.1"/>
<line x1="709.40" y1="98.60" x2="712.40" y2="98.60" stroke="#000" stroke-width="1.1"/>
<line x1="730.30" y1="98.60" x2="727.30" y2="98.60" stroke="#000" stroke-width="1.1"/>
<line x1="709.40" y1="77.50" x2="712.40" y2="77.50" stroke="#000" stroke-width="1.1"/>
<line x1="730.30" y1="77.50" x2="727.30" y2="77.50" stroke="#000" stroke-width="1.1"/>
<line x1="709.40" y1="56.40" x2="712.40" y2="56.40" stroke="#000" stroke-width="1.1"/>
<line x1="730.30" y1="56.40" x2="727.30" y2="56.40" stroke="#000" stroke-width="1.1"/>
<line x1="709.40" y1="35.30" x2="712.40" y2="35.30" stroke="#000" stroke-width="1.1"/>
<line x1="730.30" y1="35.30" x2="727.30" y2="35.30" stroke="#000" stroke-width="1.1"/>
<line x1="709.40" y1="14.20" x2="712.40" y2="14.20" stroke="#000" stroke-width="1.1"/>
<line x1="730.30" y1="14.20" x2="727.30" y2="14.20" stroke="#000" stroke-width="1.1"/>
<text transform="translate(742.60 183.40) rotate(-90)" text-anchor="middle" class="c">1.18×10<tspan dy="-3.5" font-size="7.5">4</tspan></text>
<text transform="translate(742.60 141.20) rotate(-90)" text-anchor="middle" class="c">1.182×10<tspan dy="-3.5" font-size="7.5">4</tspan></text>
<text transform="translate(742.60 99.00) rotate(-90)" text-anchor="middle" class="c">1.184×10<tspan dy="-3.5" font-size="7.5">4</tspan></text>
<text transform="translate(742.60 56.80) rotate(-90)" text-anchor="middle" class="c">1.186×10<tspan dy="-3.5" font-size="7.5">4</tspan></text>
<text transform="translate(742.60 14.60) rotate(-90)" text-anchor="middle" class="c">1.188×10<tspan dy="-3.5" font-size="7.5">4</tspan></text>
<text transform="translate(751.00 22.30) rotate(-90)" text-anchor="middle" class="s" style="font-size:10.5px;letter-spacing:0">χ<tspan dy="-4" font-size="7.5">2</tspan></text>
<text x="478.10" y="239.60" text-anchor="middle" class="t">0.5</text>
<text x="555.50" y="239.60" text-anchor="middle" class="t">1</text>
<text x="633.00" y="239.60" text-anchor="middle" class="t">2</text>
<text transform="translate(406.30 221.00) rotate(-90)" text-anchor="middle" class="t">0</text>
<text transform="translate(406.30 153.90) rotate(-90)" text-anchor="middle" class="t">2</text>
<text transform="translate(406.30 86.80) rotate(-90)" text-anchor="middle" class="t">4</text>
<text transform="translate(406.30 19.70) rotate(-90)" text-anchor="middle" class="t">6</text>
<text transform="translate(388.10 118.3) rotate(-90)" text-anchor="middle" class="s" font-style="italic">θ</text>
<text x="562.40" y="264.8" text-anchor="middle" class="s" style="word-spacing:3.5px;letter-spacing:0.3px">s (R<tspan dy="4" font-size="10">E</tspan><tspan dy="-4">)</tspan></text>
<g shape-rendering="crispEdges">
<rect x="37.00" y="293.90" width="53.30" height="5.47" fill="#0000aa"/>
<rect x="90.00" y="293.90" width="27.30" height="5.47" fill="#2aebe4"/>
<rect x="117.00" y="293.90" width="54.30" height="5.47" fill="#fff500"/>
<rect x="171.00" y="293.90" width="27.30" height="5.47" fill="#ff7800"/>
<rect x="198.00" y="293.90" width="27.30" height="5.47" fill="#ff8e00"/>
<rect x="225.00" y="293.90" width="54.30" height="5.47" fill="#ff160f"/>
<rect x="279.00" y="293.90" width="27.30" height="5.47" fill="#ff7800"/>
<rect x="306.00" y="293.90" width="25.30" height="5.47" fill="#ff160f"/>
<rect x="37.00" y="299.07" width="26.30" height="5.57" fill="#0000aa"/>
<rect x="63.00" y="299.07" width="27.30" height="5.57" fill="#0a52e1"/>
<rect x="90.00" y="299.07" width="27.30" height="5.57" fill="#1278e8"/>
<rect x="117.00" y="299.07" width="27.30" height="5.57" fill="#ffba00"/>
<rect x="144.00" y="299.07" width="27.30" height="5.57" fill="#ff160f"/>
<rect x="171.00" y="299.07" width="27.30" height="5.57" fill="#ff5f04"/>
<rect x="198.00" y="299.07" width="27.30" height="5.57" fill="#ff4646"/>
<rect x="225.00" y="299.07" width="27.30" height="5.57" fill="#ff160f"/>
<rect x="252.00" y="299.07" width="54.30" height="5.57" fill="#ff2f2d"/>
<rect x="306.00" y="299.07" width="25.30" height="5.57" fill="#ff4608"/>
<rect x="37.00" y="304.34" width="26.30" height="5.57" fill="#0000aa"/>
<rect x="63.00" y="304.34" width="27.30" height="5.57" fill="#2aebe4"/>
<rect x="90.00" y="304.34" width="27.30" height="5.57" fill="#ffe200"/>
<rect x="117.00" y="304.34" width="27.30" height="5.57" fill="#ff160f"/>
<rect x="144.00" y="304.34" width="27.30" height="5.57" fill="#ff5f04"/>
<rect x="171.00" y="304.34" width="54.30" height="5.57" fill="#ff160f"/>
<rect x="225.00" y="304.34" width="27.30" height="5.57" fill="#ff2f2d"/>
<rect x="252.00" y="304.34" width="27.30" height="5.57" fill="#ff4646"/>
<rect x="279.00" y="304.34" width="52.30" height="5.57" fill="#ff5f5f"/>
<rect x="37.00" y="309.61" width="26.30" height="5.57" fill="#0000aa"/>
<rect x="63.00" y="309.61" width="27.30" height="5.57" fill="#2aebe4"/>
<rect x="90.00" y="309.61" width="27.30" height="5.57" fill="#b9ff37"/>
<rect x="117.00" y="309.61" width="27.30" height="5.57" fill="#ffa500"/>
<rect x="144.00" y="309.61" width="27.30" height="5.57" fill="#ff7800"/>
<rect x="171.00" y="309.61" width="27.30" height="5.57" fill="#ffd000"/>
<rect x="198.00" y="309.61" width="27.30" height="5.57" fill="#ff5f04"/>
<rect x="225.00" y="309.61" width="27.30" height="5.57" fill="#ff2f2d"/>
<rect x="252.00" y="309.61" width="54.30" height="5.57" fill="#ff5f5f"/>
<rect x="306.00" y="309.61" width="25.30" height="5.57" fill="#ff4646"/>
<rect x="37.00" y="314.88" width="26.30" height="5.57" fill="#a0ff50"/>
<rect x="63.00" y="314.88" width="27.30" height="5.57" fill="#ccff28"/>
<rect x="90.00" y="314.88" width="27.30" height="5.57" fill="#fff500"/>
<rect x="117.00" y="314.88" width="81.30" height="5.57" fill="#ffd000"/>
<rect x="198.00" y="314.88" width="27.30" height="5.57" fill="#ff5f04"/>
<rect x="225.00" y="314.88" width="27.30" height="5.57" fill="#ff160f"/>
<rect x="252.00" y="314.88" width="54.30" height="5.57" fill="#ff5f5f"/>
<rect x="306.00" y="314.88" width="25.30" height="5.57" fill="#ff4646"/>
<rect x="37.00" y="320.15" width="53.30" height="5.57" fill="#87ff69"/>
<rect x="90.00" y="320.15" width="27.30" height="5.57" fill="#a0ff50"/>
<rect x="117.00" y="320.15" width="54.30" height="5.57" fill="#deff19"/>
<rect x="171.00" y="320.15" width="27.30" height="5.57" fill="#ffe200"/>
<rect x="198.00" y="320.15" width="27.30" height="5.57" fill="#ffa500"/>
<rect x="225.00" y="320.15" width="27.30" height="5.57" fill="#ff4608"/>
<rect x="252.00" y="320.15" width="27.30" height="5.57" fill="#ff2f2d"/>
<rect x="279.00" y="320.15" width="27.30" height="5.57" fill="#ff5f5f"/>
<rect x="306.00" y="320.15" width="25.30" height="5.57" fill="#ff2f2d"/>
<rect x="37.00" y="325.42" width="26.30" height="5.57" fill="#0000aa"/>
<rect x="63.00" y="325.42" width="27.30" height="5.57" fill="#0008bc"/>
<rect x="90.00" y="325.42" width="27.30" height="5.57" fill="#199ef0"/>
<rect x="117.00" y="325.42" width="27.30" height="5.57" fill="#2aebe4"/>
<rect x="144.00" y="325.42" width="27.30" height="5.57" fill="#b9ff37"/>
<rect x="171.00" y="325.42" width="27.30" height="5.57" fill="#ffe200"/>
<rect x="198.00" y="325.42" width="27.30" height="5.57" fill="#ffa500"/>
<rect x="225.00" y="325.42" width="27.30" height="5.57" fill="#ff160f"/>
<rect x="252.00" y="325.42" width="27.30" height="5.57" fill="#ff2f2d"/>
<rect x="279.00" y="325.42" width="52.30" height="5.57" fill="#ff4646"/>
<rect x="37.00" y="330.69" width="53.30" height="5.57" fill="#0000aa"/>
<rect x="90.00" y="330.69" width="27.30" height="5.57" fill="#0008bc"/>
<rect x="117.00" y="330.69" width="27.30" height="5.57" fill="#3ef2c7"/>
<rect x="144.00" y="330.69" width="27.30" height="5.57" fill="#2aebe4"/>
<rect x="171.00" y="330.69" width="27.30" height="5.57" fill="#ffa500"/>
<rect x="198.00" y="330.69" width="27.30" height="5.57" fill="#ff2e0c"/>
<rect x="225.00" y="330.69" width="54.30" height="5.57" fill="#ff4646"/>
<rect x="279.00" y="330.69" width="52.30" height="5.57" fill="#ff2f2d"/>
<rect x="37.00" y="335.96" width="53.30" height="5.57" fill="#0000aa"/>
<rect x="90.00" y="335.96" width="27.30" height="5.57" fill="#1278e8"/>
<rect x="117.00" y="335.96" width="27.30" height="5.57" fill="#52f8aa"/>
<rect x="144.00" y="335.96" width="27.30" height="5.57" fill="#fff500"/>
<rect x="171.00" y="335.96" width="27.30" height="5.57" fill="#ff8e00"/>
<rect x="198.00" y="335.96" width="27.30" height="5.57" fill="#ff160f"/>
<rect x="225.00" y="335.96" width="106.30" height="5.57" fill="#ff2f2d"/>
<rect x="37.00" y="341.23" width="53.30" height="5.57" fill="#0000aa"/>
<rect x="90.00" y="341.23" width="27.30" height="5.57" fill="#1278e8"/>
<rect x="117.00" y="341.23" width="27.30" height="5.57" fill="#52f8aa"/>
<rect x="144.00" y="341.23" width="27.30" height="5.57" fill="#b9ff37"/>
<rect x="171.00" y="341.23" width="27.30" height="5.57" fill="#ffba00"/>
<rect x="198.00" y="341.23" width="27.30" height="5.57" fill="#ff4608"/>
<rect x="225.00" y="341.23" width="54.30" height="5.57" fill="#ff160f"/>
<rect x="279.00" y="341.23" width="27.30" height="5.57" fill="#ff7800"/>
<rect x="306.00" y="341.23" width="25.30" height="5.57" fill="#ffe200"/>
<rect x="37.00" y="346.50" width="53.30" height="5.57" fill="#0000aa"/>
<rect x="90.00" y="346.50" width="27.30" height="5.57" fill="#2aebe4"/>
<rect x="117.00" y="346.50" width="27.30" height="5.57" fill="#a0ff50"/>
<rect x="144.00" y="346.50" width="27.30" height="5.57" fill="#ccff28"/>
<rect x="171.00" y="346.50" width="27.30" height="5.57" fill="#ffa500"/>
<rect x="198.00" y="346.50" width="27.30" height="5.57" fill="#ff2e0c"/>
<rect x="225.00" y="346.50" width="54.30" height="5.57" fill="#ff2f2d"/>
<rect x="279.00" y="346.50" width="27.30" height="5.57" fill="#ff160f"/>
<rect x="306.00" y="346.50" width="25.30" height="5.57" fill="#ff7800"/>
<rect x="37.00" y="351.77" width="53.30" height="5.57" fill="#0000aa"/>
<rect x="90.00" y="351.77" width="27.30" height="5.57" fill="#2aebe4"/>
<rect x="117.00" y="351.77" width="27.30" height="5.57" fill="#a0ff50"/>
<rect x="144.00" y="351.77" width="27.30" height="5.57" fill="#ccff28"/>
<rect x="171.00" y="351.77" width="27.30" height="5.57" fill="#ffa500"/>
<rect x="198.00" y="351.77" width="27.30" height="5.57" fill="#ff2e0c"/>
<rect x="225.00" y="351.77" width="54.30" height="5.57" fill="#ff2f2d"/>
<rect x="279.00" y="351.77" width="27.30" height="5.57" fill="#ff160f"/>
<rect x="306.00" y="351.77" width="25.30" height="5.57" fill="#ff2f2d"/>
<rect x="37.00" y="357.04" width="26.30" height="5.57" fill="#2aebe4"/>
<rect x="63.00" y="357.04" width="27.30" height="5.57" fill="#0000aa"/>
<rect x="90.00" y="357.04" width="27.30" height="5.57" fill="#0530d7"/>
<rect x="117.00" y="357.04" width="27.30" height="5.57" fill="#0008bc"/>
<rect x="144.00" y="357.04" width="27.30" height="5.57" fill="#3ef2c7"/>
<rect x="171.00" y="357.04" width="27.30" height="5.57" fill="#a0ff50"/>
<rect x="198.00" y="357.04" width="27.30" height="5.57" fill="#ff7800"/>
<rect x="225.00" y="357.04" width="27.30" height="5.57" fill="#ff160f"/>
<rect x="252.00" y="357.04" width="79.30" height="5.57" fill="#ff2f2d"/>
<rect x="37.00" y="362.31" width="53.30" height="5.57" fill="#b9ff37"/>
<rect x="90.00" y="362.31" width="27.30" height="5.57" fill="#a0ff50"/>
<rect x="117.00" y="362.31" width="27.30" height="5.57" fill="#b9ff37"/>
<rect x="144.00" y="362.31" width="27.30" height="5.57" fill="#ccff28"/>
<rect x="171.00" y="362.31" width="27.30" height="5.57" fill="#fff500"/>
<rect x="198.00" y="362.31" width="27.30" height="5.57" fill="#ffa500"/>
<rect x="225.00" y="362.31" width="27.30" height="5.57" fill="#ff4608"/>
<rect x="252.00" y="362.31" width="27.30" height="5.57" fill="#ff2f2d"/>
<rect x="279.00" y="362.31" width="27.30" height="5.57" fill="#ff4608"/>
<rect x="306.00" y="362.31" width="25.30" height="5.57" fill="#ff2f2d"/>
<rect x="37.00" y="367.58" width="26.30" height="5.57" fill="#199ef0"/>
<rect x="63.00" y="367.58" width="27.30" height="5.57" fill="#6cfc8a"/>
<rect x="90.00" y="367.58" width="27.30" height="5.57" fill="#ccff28"/>
<rect x="117.00" y="367.58" width="27.30" height="5.57" fill="#fff500"/>
<rect x="144.00" y="367.58" width="27.30" height="5.57" fill="#eefa0c"/>
<rect x="171.00" y="367.58" width="27.30" height="5.57" fill="#fff500"/>
<rect x="198.00" y="367.58" width="27.30" height="5.57" fill="#ff4608"/>
<rect x="225.00" y="367.58" width="27.30" height="5.57" fill="#ff160f"/>
<rect x="252.00" y="367.58" width="27.30" height="5.57" fill="#ff2f2d"/>
<rect x="279.00" y="367.58" width="27.30" height="5.57" fill="#ff160f"/>
<rect x="306.00" y="367.58" width="25.30" height="5.57" fill="#ff4646"/>
<rect x="37.00" y="372.85" width="26.30" height="5.57" fill="#000fcd"/>
<rect x="63.00" y="372.85" width="27.30" height="5.57" fill="#b9ff37"/>
<rect x="90.00" y="372.85" width="27.30" height="5.57" fill="#eefa0c"/>
<rect x="117.00" y="372.85" width="27.30" height="5.57" fill="#ff7800"/>
<rect x="144.00" y="372.85" width="27.30" height="5.57" fill="#ff2f2d"/>
<rect x="171.00" y="372.85" width="27.30" height="5.57" fill="#ff221e"/>
<rect x="198.00" y="372.85" width="27.30" height="5.57" fill="#ff160f"/>
<rect x="225.00" y="372.85" width="27.30" height="5.57" fill="#ff2f2d"/>
<rect x="252.00" y="372.85" width="27.30" height="5.57" fill="#ff4646"/>
<rect x="279.00" y="372.85" width="27.30" height="5.57" fill="#ff2f2d"/>
<rect x="306.00" y="372.85" width="25.30" height="5.57" fill="#ff4646"/>
<rect x="37.00" y="378.12" width="26.30" height="5.57" fill="#0000aa"/>
<rect x="63.00" y="378.12" width="27.30" height="5.57" fill="#6cfc8a"/>
<rect x="90.00" y="378.12" width="108.30" height="5.57" fill="#ff160f"/>
<rect x="198.00" y="378.12" width="54.30" height="5.57" fill="#ff2f2d"/>
<rect x="252.00" y="378.12" width="27.30" height="5.57" fill="#ff4646"/>
<rect x="279.00" y="378.12" width="52.30" height="5.57" fill="#ff2f2d"/>
<rect x="37.00" y="383.39" width="26.30" height="5.57" fill="#0000aa"/>
<rect x="63.00" y="383.39" width="27.30" height="5.57" fill="#ffd000"/>
<rect x="90.00" y="383.39" width="27.30" height="5.57" fill="#ffe200"/>
<rect x="117.00" y="383.39" width="54.30" height="5.57" fill="#ff160f"/>
<rect x="171.00" y="383.39" width="27.30" height="5.57" fill="#ff4608"/>
<rect x="198.00" y="383.39" width="27.30" height="5.57" fill="#ff3a3a"/>
<rect x="225.00" y="383.39" width="27.30" height="5.57" fill="#ff2f2d"/>
<rect x="252.00" y="383.39" width="27.30" height="5.57" fill="#ff4646"/>
<rect x="279.00" y="383.39" width="27.30" height="5.57" fill="#ff160f"/>
<rect x="306.00" y="383.39" width="25.30" height="5.57" fill="#ffa500"/>
<rect x="37.00" y="388.66" width="26.30" height="5.57" fill="#0000aa"/>
<rect x="63.00" y="388.66" width="27.30" height="5.57" fill="#0a52e1"/>
<rect x="90.00" y="388.66" width="27.30" height="5.57" fill="#2aebe4"/>
<rect x="117.00" y="388.66" width="27.30" height="5.57" fill="#ffa500"/>
<rect x="144.00" y="388.66" width="27.30" height="5.57" fill="#ff2e0c"/>
<rect x="171.00" y="388.66" width="27.30" height="5.57" fill="#ff4608"/>
<rect x="198.00" y="388.66" width="27.30" height="5.57" fill="#ff221e"/>
<rect x="225.00" y="388.66" width="27.30" height="5.57" fill="#ff2f2d"/>
<rect x="252.00" y="388.66" width="27.30" height="5.57" fill="#ff4646"/>
<rect x="279.00" y="388.66" width="52.30" height="5.57" fill="#ffa500"/>
<rect x="37.00" y="393.93" width="26.30" height="5.57" fill="#0000aa"/>
<rect x="63.00" y="393.93" width="27.30" height="5.57" fill="#199ef0"/>
<rect x="90.00" y="393.93" width="27.30" height="5.57" fill="#2aebe4"/>
<rect x="117.00" y="393.93" width="27.30" height="5.57" fill="#a0ff50"/>
<rect x="144.00" y="393.93" width="27.30" height="5.57" fill="#ffd000"/>
<rect x="171.00" y="393.93" width="27.30" height="5.57" fill="#ff160f"/>
<rect x="198.00" y="393.93" width="27.30" height="5.57" fill="#ff2f2d"/>
<rect x="225.00" y="393.93" width="54.30" height="5.57" fill="#ff4646"/>
<rect x="279.00" y="393.93" width="27.30" height="5.57" fill="#ff7800"/>
<rect x="306.00" y="393.93" width="25.30" height="5.57" fill="#52f8aa"/>
<rect x="37.00" y="399.20" width="26.30" height="5.57" fill="#0000aa"/>
<rect x="63.00" y="399.20" width="27.30" height="5.57" fill="#199ef0"/>
<rect x="90.00" y="399.20" width="27.30" height="5.57" fill="#fff500"/>
<rect x="117.00" y="399.20" width="27.30" height="5.57" fill="#ff8e00"/>
<rect x="144.00" y="399.20" width="27.30" height="5.57" fill="#ff160f"/>
<rect x="171.00" y="399.20" width="27.30" height="5.57" fill="#ff4608"/>
<rect x="198.00" y="399.20" width="27.30" height="5.57" fill="#ff160f"/>
<rect x="225.00" y="399.20" width="54.30" height="5.57" fill="#ff4646"/>
<rect x="279.00" y="399.20" width="27.30" height="5.57" fill="#ffd000"/>
<rect x="306.00" y="399.20" width="25.30" height="5.57" fill="#ff160f"/>
<rect x="37.00" y="404.47" width="26.30" height="5.57" fill="#0000aa"/>
<rect x="63.00" y="404.47" width="27.30" height="5.57" fill="#199ef0"/>
<rect x="90.00" y="404.47" width="27.30" height="5.57" fill="#ff2e0c"/>
<rect x="117.00" y="404.47" width="27.30" height="5.57" fill="#ff5f04"/>
<rect x="144.00" y="404.47" width="27.30" height="5.57" fill="#ff160f"/>
<rect x="171.00" y="404.47" width="27.30" height="5.57" fill="#ff5f04"/>
<rect x="198.00" y="404.47" width="54.30" height="5.57" fill="#ff2f2d"/>
<rect x="252.00" y="404.47" width="27.30" height="5.57" fill="#ff4646"/>
<rect x="279.00" y="404.47" width="27.30" height="5.57" fill="#ff7800"/>
<rect x="306.00" y="404.47" width="25.30" height="5.57" fill="#ff160f"/>
<rect x="37.00" y="409.74" width="26.30" height="5.57" fill="#0000aa"/>
<rect x="63.00" y="409.74" width="27.30" height="5.57" fill="#ffd000"/>
<rect x="90.00" y="409.74" width="27.30" height="5.57" fill="#ff8e00"/>
<rect x="117.00" y="409.74" width="81.30" height="5.57" fill="#ff160f"/>
<rect x="198.00" y="409.74" width="27.30" height="5.57" fill="#ff3a3a"/>
<rect x="225.00" y="409.74" width="54.30" height="5.57" fill="#ff2f2d"/>
<rect x="279.00" y="409.74" width="27.30" height="5.57" fill="#ff160f"/>
<rect x="306.00" y="409.74" width="25.30" height="5.57" fill="#ff2f2d"/>
<rect x="37.00" y="415.01" width="26.30" height="5.57" fill="#ccff28"/>
<rect x="63.00" y="415.01" width="27.30" height="5.57" fill="#3ef2c7"/>
<rect x="90.00" y="415.01" width="27.30" height="5.57" fill="#b9ff37"/>
<rect x="117.00" y="415.01" width="27.30" height="5.57" fill="#ffba00"/>
<rect x="144.00" y="415.01" width="54.30" height="5.57" fill="#ff2f2d"/>
<rect x="198.00" y="415.01" width="27.30" height="5.57" fill="#ff160f"/>
<rect x="225.00" y="415.01" width="106.30" height="5.57" fill="#ff2f2d"/>
<rect x="37.00" y="420.28" width="26.30" height="5.57" fill="#b9ff37"/>
<rect x="63.00" y="420.28" width="27.30" height="5.57" fill="#a0ff50"/>
<rect x="90.00" y="420.28" width="27.30" height="5.57" fill="#b9ff37"/>
<rect x="117.00" y="420.28" width="27.30" height="5.57" fill="#eefa0c"/>
<rect x="144.00" y="420.28" width="27.30" height="5.57" fill="#fff500"/>
<rect x="171.00" y="420.28" width="54.30" height="5.57" fill="#ff8e00"/>
<rect x="225.00" y="420.28" width="27.30" height="5.57" fill="#ff160f"/>
<rect x="252.00" y="420.28" width="54.30" height="5.57" fill="#ff2f2d"/>
<rect x="306.00" y="420.28" width="25.30" height="5.57" fill="#ff4646"/>
<rect x="37.00" y="425.55" width="26.30" height="5.57" fill="#87ff69"/>
<rect x="63.00" y="425.55" width="27.30" height="5.57" fill="#0a52e1"/>
<rect x="90.00" y="425.55" width="27.30" height="5.57" fill="#a0ff50"/>
<rect x="117.00" y="425.55" width="27.30" height="5.57" fill="#b9ff37"/>
<rect x="144.00" y="425.55" width="27.30" height="5.57" fill="#deff19"/>
<rect x="171.00" y="425.55" width="27.30" height="5.57" fill="#fff500"/>
<rect x="198.00" y="425.55" width="27.30" height="5.57" fill="#ff8e00"/>
<rect x="225.00" y="425.55" width="27.30" height="5.57" fill="#ff7800"/>
<rect x="252.00" y="425.55" width="27.30" height="5.57" fill="#ff2f2d"/>
<rect x="279.00" y="425.55" width="27.30" height="5.57" fill="#ff4646"/>
<rect x="306.00" y="425.55" width="25.30" height="5.57" fill="#ffe200"/>
<rect x="37.00" y="430.82" width="26.30" height="5.57" fill="#2aebe4"/>
<rect x="63.00" y="430.82" width="27.30" height="5.57" fill="#0000aa"/>
<rect x="90.00" y="430.82" width="27.30" height="5.57" fill="#000fcd"/>
<rect x="117.00" y="430.82" width="27.30" height="5.57" fill="#0008bc"/>
<rect x="144.00" y="430.82" width="27.30" height="5.57" fill="#b9ff37"/>
<rect x="171.00" y="430.82" width="27.30" height="5.57" fill="#ffd000"/>
<rect x="198.00" y="430.82" width="27.30" height="5.57" fill="#ff8e00"/>
<rect x="225.00" y="430.82" width="27.30" height="5.57" fill="#ff160f"/>
<rect x="252.00" y="430.82" width="27.30" height="5.57" fill="#ff2f2d"/>
<rect x="279.00" y="430.82" width="27.30" height="5.57" fill="#ff4646"/>
<rect x="306.00" y="430.82" width="25.30" height="5.57" fill="#ff2f2d"/>
<rect x="37.00" y="436.09" width="53.30" height="5.57" fill="#0000aa"/>
<rect x="90.00" y="436.09" width="27.30" height="5.57" fill="#2aebe4"/>
<rect x="117.00" y="436.09" width="27.30" height="5.57" fill="#87ff69"/>
<rect x="144.00" y="436.09" width="27.30" height="5.57" fill="#b9ff37"/>
<rect x="171.00" y="436.09" width="27.30" height="5.57" fill="#ff8e00"/>
<rect x="198.00" y="436.09" width="27.30" height="5.57" fill="#ff4608"/>
<rect x="225.00" y="436.09" width="27.30" height="5.57" fill="#ff2f2d"/>
<rect x="252.00" y="436.09" width="27.30" height="5.57" fill="#ff4646"/>
<rect x="279.00" y="436.09" width="52.30" height="5.57" fill="#ff2f2d"/>
<rect x="37.00" y="441.36" width="26.30" height="5.57" fill="#0000aa"/>
<rect x="63.00" y="441.36" width="27.30" height="5.57" fill="#000fcd"/>
<rect x="90.00" y="441.36" width="27.30" height="5.57" fill="#2aebe4"/>
<rect x="117.00" y="441.36" width="27.30" height="5.57" fill="#a0ff50"/>
<rect x="144.00" y="441.36" width="27.30" height="5.57" fill="#b9ff37"/>
<rect x="171.00" y="441.36" width="27.30" height="5.57" fill="#ffba00"/>
<rect x="198.00" y="441.36" width="27.30" height="5.57" fill="#ff160f"/>
<rect x="225.00" y="441.36" width="106.30" height="5.57" fill="#ff2f2d"/>
<rect x="37.00" y="446.63" width="53.30" height="5.57" fill="#0000aa"/>
<rect x="90.00" y="446.63" width="27.30" height="5.57" fill="#000fcd"/>
<rect x="117.00" y="446.63" width="27.30" height="5.57" fill="#87ff69"/>
<rect x="144.00" y="446.63" width="27.30" height="5.57" fill="#b9ff37"/>
<rect x="171.00" y="446.63" width="27.30" height="5.57" fill="#ffba00"/>
<rect x="198.00" y="446.63" width="27.30" height="5.57" fill="#ff4608"/>
<rect x="225.00" y="446.63" width="27.30" height="5.57" fill="#ff160f"/>
<rect x="252.00" y="446.63" width="27.30" height="5.57" fill="#ff4608"/>
<rect x="279.00" y="446.63" width="27.30" height="5.57" fill="#ff7800"/>
<rect x="306.00" y="446.63" width="25.30" height="5.57" fill="#ffe200"/>
<rect x="37.00" y="451.90" width="53.30" height="5.57" fill="#0000aa"/>
<rect x="90.00" y="451.90" width="27.30" height="5.57" fill="#2aebe4"/>
<rect x="117.00" y="451.90" width="27.30" height="5.57" fill="#6cfc8a"/>
<rect x="144.00" y="451.90" width="27.30" height="5.57" fill="#a0ff50"/>
<rect x="171.00" y="451.90" width="27.30" height="5.57" fill="#ffa500"/>
<rect x="198.00" y="451.90" width="27.30" height="5.57" fill="#ff2e0c"/>
<rect x="225.00" y="451.90" width="27.30" height="5.57" fill="#ff160f"/>
<rect x="252.00" y="451.90" width="27.30" height="5.57" fill="#ff2f2d"/>
<rect x="279.00" y="451.90" width="27.30" height="5.57" fill="#ff4646"/>
<rect x="306.00" y="451.90" width="25.30" height="5.57" fill="#ff160f"/>
<rect x="37.00" y="457.17" width="53.30" height="5.57" fill="#0000aa"/>
<rect x="90.00" y="457.17" width="27.30" height="5.57" fill="#199ef0"/>
<rect x="117.00" y="457.17" width="27.30" height="5.57" fill="#000fcd"/>
<rect x="144.00" y="457.17" width="27.30" height="5.57" fill="#eefa0c"/>
<rect x="171.00" y="457.17" width="27.30" height="5.57" fill="#ffba00"/>
<rect x="198.00" y="457.17" width="27.30" height="5.57" fill="#ff160f"/>
<rect x="225.00" y="457.17" width="27.30" height="5.57" fill="#ff2f2d"/>
<rect x="252.00" y="457.17" width="27.30" height="5.57" fill="#ff5f5f"/>
<rect x="279.00" y="457.17" width="27.30" height="5.57" fill="#ff2f2d"/>
<rect x="306.00" y="457.17" width="25.30" height="5.57" fill="#ff4646"/>
<rect x="37.00" y="462.44" width="26.30" height="5.57" fill="#0000aa"/>
<rect x="63.00" y="462.44" width="27.30" height="5.57" fill="#0a52e1"/>
<rect x="90.00" y="462.44" width="27.30" height="5.57" fill="#199ef0"/>
<rect x="117.00" y="462.44" width="27.30" height="5.57" fill="#22c4ea"/>
<rect x="144.00" y="462.44" width="27.30" height="5.57" fill="#a0ff50"/>
<rect x="171.00" y="462.44" width="27.30" height="5.57" fill="#ffd000"/>
<rect x="198.00" y="462.44" width="27.30" height="5.57" fill="#ff5f04"/>
<rect x="225.00" y="462.44" width="27.30" height="5.57" fill="#ff160f"/>
<rect x="252.00" y="462.44" width="54.30" height="5.57" fill="#ff4646"/>
<rect x="306.00" y="462.44" width="25.30" height="5.57" fill="#ff2f2d"/>
<rect x="37.00" y="467.71" width="80.30" height="5.57" fill="#b9ff37"/>
<rect x="117.00" y="467.71" width="54.30" height="5.57" fill="#ccff28"/>
<rect x="171.00" y="467.71" width="27.30" height="5.57" fill="#ffa500"/>
<rect x="198.00" y="467.71" width="27.30" height="5.57" fill="#ffba00"/>
<rect x="225.00" y="467.71" width="27.30" height="5.57" fill="#ff160f"/>
<rect x="252.00" y="467.71" width="79.30" height="5.57" fill="#ff4646"/>
<rect x="37.00" y="472.98" width="26.30" height="5.57" fill="#0000aa"/>
<rect x="63.00" y="472.98" width="27.30" height="5.57" fill="#b9ff37"/>
<rect x="90.00" y="472.98" width="27.30" height="5.57" fill="#deff19"/>
<rect x="117.00" y="472.98" width="27.30" height="5.57" fill="#ffba00"/>
<rect x="144.00" y="472.98" width="27.30" height="5.57" fill="#ffe200"/>
<rect x="171.00" y="472.98" width="27.30" height="5.57" fill="#ffd000"/>
<rect x="198.00" y="472.98" width="27.30" height="5.57" fill="#ffe200"/>
<rect x="225.00" y="472.98" width="27.30" height="5.57" fill="#ff2f2d"/>
<rect x="252.00" y="472.98" width="79.30" height="5.57" fill="#ff4646"/>
<rect x="37.00" y="478.25" width="26.30" height="5.57" fill="#0000aa"/>
<rect x="63.00" y="478.25" width="27.30" height="5.57" fill="#2aebe4"/>
<rect x="90.00" y="478.25" width="27.30" height="5.57" fill="#eefa0c"/>
<rect x="117.00" y="478.25" width="27.30" height="5.57" fill="#ffba00"/>
<rect x="144.00" y="478.25" width="27.30" height="5.57" fill="#ffa500"/>
<rect x="171.00" y="478.25" width="27.30" height="5.57" fill="#ff2e0c"/>
<rect x="198.00" y="478.25" width="27.30" height="5.57" fill="#ff5f04"/>
<rect x="225.00" y="478.25" width="27.30" height="5.57" fill="#ff4646"/>
<rect x="252.00" y="478.25" width="27.30" height="5.57" fill="#ff2f2d"/>
<rect x="279.00" y="478.25" width="27.30" height="5.57" fill="#ff5f5f"/>
<rect x="306.00" y="478.25" width="25.30" height="5.57" fill="#ff2f2d"/>
<rect x="37.00" y="483.52" width="26.30" height="5.57" fill="#0000aa"/>
<rect x="63.00" y="483.52" width="27.30" height="5.57" fill="#52f8aa"/>
<rect x="90.00" y="483.52" width="27.30" height="5.57" fill="#a0ff50"/>
<rect x="117.00" y="483.52" width="54.30" height="5.57" fill="#ff2e0c"/>
<rect x="171.00" y="483.52" width="27.30" height="5.57" fill="#ff7800"/>
<rect x="198.00" y="483.52" width="27.30" height="5.57" fill="#ff4608"/>
<rect x="225.00" y="483.52" width="27.30" height="5.57" fill="#ff2f2d"/>
<rect x="252.00" y="483.52" width="54.30" height="5.57" fill="#ff4646"/>
<rect x="306.00" y="483.52" width="25.30" height="5.57" fill="#ff2f2d"/>
<rect x="37.00" y="488.79" width="26.30" height="5.57" fill="#0000aa"/>
<rect x="63.00" y="488.79" width="27.30" height="5.57" fill="#199ef0"/>
<rect x="90.00" y="488.79" width="27.30" height="5.57" fill="#a0ff50"/>
<rect x="117.00" y="488.79" width="27.30" height="5.57" fill="#ff160f"/>
<rect x="144.00" y="488.79" width="27.30" height="5.57" fill="#ff2e0c"/>
<rect x="171.00" y="488.79" width="27.30" height="5.57" fill="#ff7800"/>
<rect x="198.00" y="488.79" width="27.30" height="5.57" fill="#ff3a3a"/>
<rect x="225.00" y="488.79" width="27.30" height="5.57" fill="#ff160f"/>
<rect x="252.00" y="488.79" width="27.30" height="5.57" fill="#ff2f2d"/>
<rect x="279.00" y="488.79" width="27.30" height="5.57" fill="#ff4646"/>
<rect x="306.00" y="488.79" width="25.30" height="5.57" fill="#ffe200"/>
<rect x="37.00" y="494.06" width="53.30" height="5.57" fill="#0000aa"/>
<rect x="90.00" y="494.06" width="27.30" height="5.57" fill="#22c4ea"/>
<rect x="117.00" y="494.06" width="27.30" height="5.57" fill="#ffe200"/>
<rect x="144.00" y="494.06" width="27.30" height="5.57" fill="#ff5f04"/>
<rect x="171.00" y="494.06" width="27.30" height="5.57" fill="#ff7800"/>
<rect x="198.00" y="494.06" width="27.30" height="5.57" fill="#ff160f"/>
<rect x="225.00" y="494.06" width="54.30" height="5.57" fill="#ff2f2d"/>
<rect x="279.00" y="494.06" width="27.30" height="5.57" fill="#ff160f"/>
<rect x="306.00" y="494.06" width="25.30" height="5.57" fill="#ff7800"/>
<rect x="37.00" y="499.33" width="53.30" height="5.57" fill="#0000aa"/>
<rect x="90.00" y="499.33" width="54.30" height="5.57" fill="#2aebe4"/>
<rect x="144.00" y="499.33" width="54.30" height="5.57" fill="#ff8e00"/>
<rect x="198.00" y="499.33" width="54.30" height="5.57" fill="#ff160f"/>
<rect x="252.00" y="499.33" width="27.30" height="5.57" fill="#ff2f2d"/>
<rect x="279.00" y="499.33" width="27.30" height="5.57" fill="#ff160f"/>
<rect x="306.00" y="499.33" width="25.30" height="5.57" fill="#b9ff37"/>
</g>
<rect x="37.00" y="293.9" width="294" height="211.0" fill="none" stroke="#000" stroke-width="1.7"/>
<line x1="39.36" y1="504.90" x2="39.36" y2="501.90" stroke="#000" stroke-width="1.6"/>
<line x1="39.36" y1="293.90" x2="39.36" y2="296.90" stroke="#000" stroke-width="1.6"/>
<line x1="43.27" y1="504.90" x2="43.27" y2="501.90" stroke="#000" stroke-width="1.6"/>
<line x1="43.27" y1="293.90" x2="43.27" y2="296.90" stroke="#000" stroke-width="1.6"/>
<line x1="46.72" y1="504.90" x2="46.72" y2="501.90" stroke="#000" stroke-width="1.6"/>
<line x1="46.72" y1="293.90" x2="46.72" y2="296.90" stroke="#000" stroke-width="1.6"/>
<line x1="49.80" y1="504.90" x2="49.80" y2="499.40" stroke="#000" stroke-width="1.6"/>
<line x1="49.80" y1="293.90" x2="49.80" y2="299.40" stroke="#000" stroke-width="1.6"/>
<line x1="70.09" y1="504.90" x2="70.09" y2="501.90" stroke="#000" stroke-width="1.6"/>
<line x1="70.09" y1="293.90" x2="70.09" y2="296.90" stroke="#000" stroke-width="1.6"/>
<line x1="81.96" y1="504.90" x2="81.96" y2="501.90" stroke="#000" stroke-width="1.6"/>
<line x1="81.96" y1="293.90" x2="81.96" y2="296.90" stroke="#000" stroke-width="1.6"/>
<line x1="90.38" y1="504.90" x2="90.38" y2="501.90" stroke="#000" stroke-width="1.6"/>
<line x1="90.38" y1="293.90" x2="90.38" y2="296.90" stroke="#000" stroke-width="1.6"/>
<line x1="96.91" y1="504.90" x2="96.91" y2="501.90" stroke="#000" stroke-width="1.6"/>
<line x1="96.91" y1="293.90" x2="96.91" y2="296.90" stroke="#000" stroke-width="1.6"/>
<line x1="102.25" y1="504.90" x2="102.25" y2="501.90" stroke="#000" stroke-width="1.6"/>
<line x1="102.25" y1="293.90" x2="102.25" y2="296.90" stroke="#000" stroke-width="1.6"/>
<line x1="106.76" y1="504.90" x2="106.76" y2="501.90" stroke="#000" stroke-width="1.6"/>
<line x1="106.76" y1="293.90" x2="106.76" y2="296.90" stroke="#000" stroke-width="1.6"/>
<line x1="110.67" y1="504.90" x2="110.67" y2="501.90" stroke="#000" stroke-width="1.6"/>
<line x1="110.67" y1="293.90" x2="110.67" y2="296.90" stroke="#000" stroke-width="1.6"/>
<line x1="114.12" y1="504.90" x2="114.12" y2="501.90" stroke="#000" stroke-width="1.6"/>
<line x1="114.12" y1="293.90" x2="114.12" y2="296.90" stroke="#000" stroke-width="1.6"/>
<line x1="117.20" y1="504.90" x2="117.20" y2="499.40" stroke="#000" stroke-width="1.6"/>
<line x1="117.20" y1="293.90" x2="117.20" y2="299.40" stroke="#000" stroke-width="1.6"/>
<line x1="137.49" y1="504.90" x2="137.49" y2="501.90" stroke="#000" stroke-width="1.6"/>
<line x1="137.49" y1="293.90" x2="137.49" y2="296.90" stroke="#000" stroke-width="1.6"/>
<line x1="149.36" y1="504.90" x2="149.36" y2="501.90" stroke="#000" stroke-width="1.6"/>
<line x1="149.36" y1="293.90" x2="149.36" y2="296.90" stroke="#000" stroke-width="1.6"/>
<line x1="157.78" y1="504.90" x2="157.78" y2="501.90" stroke="#000" stroke-width="1.6"/>
<line x1="157.78" y1="293.90" x2="157.78" y2="296.90" stroke="#000" stroke-width="1.6"/>
<line x1="164.31" y1="504.90" x2="164.31" y2="501.90" stroke="#000" stroke-width="1.6"/>
<line x1="164.31" y1="293.90" x2="164.31" y2="296.90" stroke="#000" stroke-width="1.6"/>
<line x1="169.65" y1="504.90" x2="169.65" y2="501.90" stroke="#000" stroke-width="1.6"/>
<line x1="169.65" y1="293.90" x2="169.65" y2="296.90" stroke="#000" stroke-width="1.6"/>
<line x1="174.16" y1="504.90" x2="174.16" y2="501.90" stroke="#000" stroke-width="1.6"/>
<line x1="174.16" y1="293.90" x2="174.16" y2="296.90" stroke="#000" stroke-width="1.6"/>
<line x1="178.07" y1="504.90" x2="178.07" y2="501.90" stroke="#000" stroke-width="1.6"/>
<line x1="178.07" y1="293.90" x2="178.07" y2="296.90" stroke="#000" stroke-width="1.6"/>
<line x1="181.52" y1="504.90" x2="181.52" y2="501.90" stroke="#000" stroke-width="1.6"/>
<line x1="181.52" y1="293.90" x2="181.52" y2="296.90" stroke="#000" stroke-width="1.6"/>
<line x1="184.60" y1="504.90" x2="184.60" y2="499.40" stroke="#000" stroke-width="1.6"/>
<line x1="184.60" y1="293.90" x2="184.60" y2="299.40" stroke="#000" stroke-width="1.6"/>
<line x1="204.89" y1="504.90" x2="204.89" y2="501.90" stroke="#000" stroke-width="1.6"/>
<line x1="204.89" y1="293.90" x2="204.89" y2="296.90" stroke="#000" stroke-width="1.6"/>
<line x1="216.76" y1="504.90" x2="216.76" y2="501.90" stroke="#000" stroke-width="1.6"/>
<line x1="216.76" y1="293.90" x2="216.76" y2="296.90" stroke="#000" stroke-width="1.6"/>
<line x1="225.18" y1="504.90" x2="225.18" y2="501.90" stroke="#000" stroke-width="1.6"/>
<line x1="225.18" y1="293.90" x2="225.18" y2="296.90" stroke="#000" stroke-width="1.6"/>
<line x1="231.71" y1="504.90" x2="231.71" y2="501.90" stroke="#000" stroke-width="1.6"/>
<line x1="231.71" y1="293.90" x2="231.71" y2="296.90" stroke="#000" stroke-width="1.6"/>
<line x1="237.05" y1="504.90" x2="237.05" y2="501.90" stroke="#000" stroke-width="1.6"/>
<line x1="237.05" y1="293.90" x2="237.05" y2="296.90" stroke="#000" stroke-width="1.6"/>
<line x1="241.56" y1="504.90" x2="241.56" y2="501.90" stroke="#000" stroke-width="1.6"/>
<line x1="241.56" y1="293.90" x2="241.56" y2="296.90" stroke="#000" stroke-width="1.6"/>
<line x1="245.47" y1="504.90" x2="245.47" y2="501.90" stroke="#000" stroke-width="1.6"/>
<line x1="245.47" y1="293.90" x2="245.47" y2="296.90" stroke="#000" stroke-width="1.6"/>
<line x1="248.92" y1="504.90" x2="248.92" y2="501.90" stroke="#000" stroke-width="1.6"/>
<line x1="248.92" y1="293.90" x2="248.92" y2="296.90" stroke="#000" stroke-width="1.6"/>
<line x1="252.00" y1="504.90" x2="252.00" y2="499.40" stroke="#000" stroke-width="1.6"/>
<line x1="252.00" y1="293.90" x2="252.00" y2="299.40" stroke="#000" stroke-width="1.6"/>
<line x1="272.29" y1="504.90" x2="272.29" y2="501.90" stroke="#000" stroke-width="1.6"/>
<line x1="272.29" y1="293.90" x2="272.29" y2="296.90" stroke="#000" stroke-width="1.6"/>
<line x1="284.16" y1="504.90" x2="284.16" y2="501.90" stroke="#000" stroke-width="1.6"/>
<line x1="284.16" y1="293.90" x2="284.16" y2="296.90" stroke="#000" stroke-width="1.6"/>
<line x1="292.58" y1="504.90" x2="292.58" y2="501.90" stroke="#000" stroke-width="1.6"/>
<line x1="292.58" y1="293.90" x2="292.58" y2="296.90" stroke="#000" stroke-width="1.6"/>
<line x1="299.11" y1="504.90" x2="299.11" y2="501.90" stroke="#000" stroke-width="1.6"/>
<line x1="299.11" y1="293.90" x2="299.11" y2="296.90" stroke="#000" stroke-width="1.6"/>
<line x1="304.45" y1="504.90" x2="304.45" y2="501.90" stroke="#000" stroke-width="1.6"/>
<line x1="304.45" y1="293.90" x2="304.45" y2="296.90" stroke="#000" stroke-width="1.6"/>
<line x1="308.96" y1="504.90" x2="308.96" y2="501.90" stroke="#000" stroke-width="1.6"/>
<line x1="308.96" y1="293.90" x2="308.96" y2="296.90" stroke="#000" stroke-width="1.6"/>
<line x1="312.87" y1="504.90" x2="312.87" y2="501.90" stroke="#000" stroke-width="1.6"/>
<line x1="312.87" y1="293.90" x2="312.87" y2="296.90" stroke="#000" stroke-width="1.6"/>
<line x1="316.32" y1="504.90" x2="316.32" y2="501.90" stroke="#000" stroke-width="1.6"/>
<line x1="316.32" y1="293.90" x2="316.32" y2="296.90" stroke="#000" stroke-width="1.6"/>
<line x1="319.40" y1="504.90" x2="319.40" y2="499.40" stroke="#000" stroke-width="1.6"/>
<line x1="319.40" y1="293.90" x2="319.40" y2="299.40" stroke="#000" stroke-width="1.6"/>
<line x1="37.00" y1="502.00" x2="42.50" y2="502.00" stroke="#000" stroke-width="1.6"/>
<line x1="331.00" y1="502.00" x2="325.50" y2="502.00" stroke="#000" stroke-width="1.6"/>
<line x1="37.00" y1="468.45" x2="40.00" y2="468.45" stroke="#000" stroke-width="1.6"/>
<line x1="331.00" y1="468.45" x2="328.00" y2="468.45" stroke="#000" stroke-width="1.6"/>
<line x1="37.00" y1="434.90" x2="42.50" y2="434.90" stroke="#000" stroke-width="1.6"/>
<line x1="331.00" y1="434.90" x2="325.50" y2="434.90" stroke="#000" stroke-width="1.6"/>
<line x1="37.00" y1="401.35" x2="40.00" y2="401.35" stroke="#000" stroke-width="1.6"/>
<line x1="331.00" y1="401.35" x2="328.00" y2="401.35" stroke="#000" stroke-width="1.6"/>
<line x1="37.00" y1="367.80" x2="42.50" y2="367.80" stroke="#000" stroke-width="1.6"/>
<line x1="331.00" y1="367.80" x2="325.50" y2="367.80" stroke="#000" stroke-width="1.6"/>
<line x1="37.00" y1="334.25" x2="40.00" y2="334.25" stroke="#000" stroke-width="1.6"/>
<line x1="331.00" y1="334.25" x2="328.00" y2="334.25" stroke="#000" stroke-width="1.6"/>
<line x1="37.00" y1="300.70" x2="42.50" y2="300.70" stroke="#000" stroke-width="1.6"/>
<line x1="331.00" y1="300.70" x2="325.50" y2="300.70" stroke="#000" stroke-width="1.6"/>
<circle cx="268" cy="424.5" r="4.7"/>
<rect x="331.60" y="293.90" width="20.90" height="211.00" fill="url(#cb)"/>
<rect x="331.60" y="293.90" width="20.90" height="211.00" fill="none" stroke="#000" stroke-width="1.2"/>
<line x1="331.60" y1="485.10" x2="334.60" y2="485.10" stroke="#000" stroke-width="1.1"/>
<line x1="352.50" y1="485.10" x2="349.50" y2="485.10" stroke="#000" stroke-width="1.1"/>
<line x1="331.60" y1="464.00" x2="334.60" y2="464.00" stroke="#000" stroke-width="1.1"/>
<line x1="352.50" y1="464.00" x2="349.50" y2="464.00" stroke="#000" stroke-width="1.1"/>
<line x1="331.60" y1="442.90" x2="334.60" y2="442.90" stroke="#000" stroke-width="1.1"/>
<line x1="352.50" y1="442.90" x2="349.50" y2="442.90" stroke="#000" stroke-width="1.1"/>
<line x1="331.60" y1="421.80" x2="334.60" y2="421.80" stroke="#000" stroke-width="1.1"/>
<line x1="352.50" y1="421.80" x2="349.50" y2="421.80" stroke="#000" stroke-width="1.1"/>
<line x1="331.60" y1="400.70" x2="334.60" y2="400.70" stroke="#000" stroke-width="1.1"/>
<line x1="352.50" y1="400.70" x2="349.50" y2="400.70" stroke="#000" stroke-width="1.1"/>
<line x1="331.60" y1="379.60" x2="334.60" y2="379.60" stroke="#000" stroke-width="1.1"/>
<line x1="352.50" y1="379.60" x2="349.50" y2="379.60" stroke="#000" stroke-width="1.1"/>
<line x1="331.60" y1="358.50" x2="334.60" y2="358.50" stroke="#000" stroke-width="1.1"/>
<line x1="352.50" y1="358.50" x2="349.50" y2="358.50" stroke="#000" stroke-width="1.1"/>
<line x1="331.60" y1="337.40" x2="334.60" y2="337.40" stroke="#000" stroke-width="1.1"/>
<line x1="352.50" y1="337.40" x2="349.50" y2="337.40" stroke="#000" stroke-width="1.1"/>
<line x1="331.60" y1="316.30" x2="334.60" y2="316.30" stroke="#000" stroke-width="1.1"/>
<line x1="352.50" y1="316.30" x2="349.50" y2="316.30" stroke="#000" stroke-width="1.1"/>
<line x1="331.60" y1="295.20" x2="334.60" y2="295.20" stroke="#000" stroke-width="1.1"/>
<line x1="352.50" y1="295.20" x2="349.50" y2="295.20" stroke="#000" stroke-width="1.1"/>
<text transform="translate(364.80 464.40) rotate(-90)" text-anchor="middle" class="c">1.18×10<tspan dy="-3.5" font-size="7.5">4</tspan></text>
<text transform="translate(364.80 422.20) rotate(-90)" text-anchor="middle" class="c">1.182×10<tspan dy="-3.5" font-size="7.5">4</tspan></text>
<text transform="translate(364.80 380.00) rotate(-90)" text-anchor="middle" class="c">1.184×10<tspan dy="-3.5" font-size="7.5">4</tspan></text>
<text transform="translate(364.80 337.80) rotate(-90)" text-anchor="middle" class="c">1.186×10<tspan dy="-3.5" font-size="7.5">4</tspan></text>
<text transform="translate(364.80 295.60) rotate(-90)" text-anchor="middle" class="c">1.188×10<tspan dy="-3.5" font-size="7.5">4</tspan></text>
<text transform="translate(373.20 303.30) rotate(-90)" text-anchor="middle" class="s" style="font-size:10.5px;letter-spacing:0">χ<tspan dy="-4" font-size="7.5">2</tspan></text>
<text x="50.80" y="520.60" text-anchor="middle" class="t">10<tspan dy="-4.5" font-size="9.5" letter-spacing="0.2">−4</tspan></text>
<text x="118.20" y="520.60" text-anchor="middle" class="t">10<tspan dy="-4.5" font-size="9.5" letter-spacing="0.2">−3</tspan></text>
<text x="184.60" y="520.60" text-anchor="middle" class="t">0.01</text>
<text x="252.00" y="520.60" text-anchor="middle" class="t">0.1</text>
<text x="319.40" y="520.60" text-anchor="middle" class="t">1</text>
<text transform="translate(28.50 502.00) rotate(-90)" text-anchor="middle" class="t">0</text>
<text transform="translate(28.50 434.90) rotate(-90)" text-anchor="middle" class="t">2</text>
<text transform="translate(28.50 367.80) rotate(-90)" text-anchor="middle" class="t">4</text>
<text transform="translate(28.50 300.70) rotate(-90)" text-anchor="middle" class="t">6</text>
<text transform="translate(10.30 399.30) rotate(-90)" text-anchor="middle" class="s" font-style="italic">θ</text>
<text x="184.3" y="545.60" text-anchor="middle" class="s">q</text>
</svg>
</body></html>
